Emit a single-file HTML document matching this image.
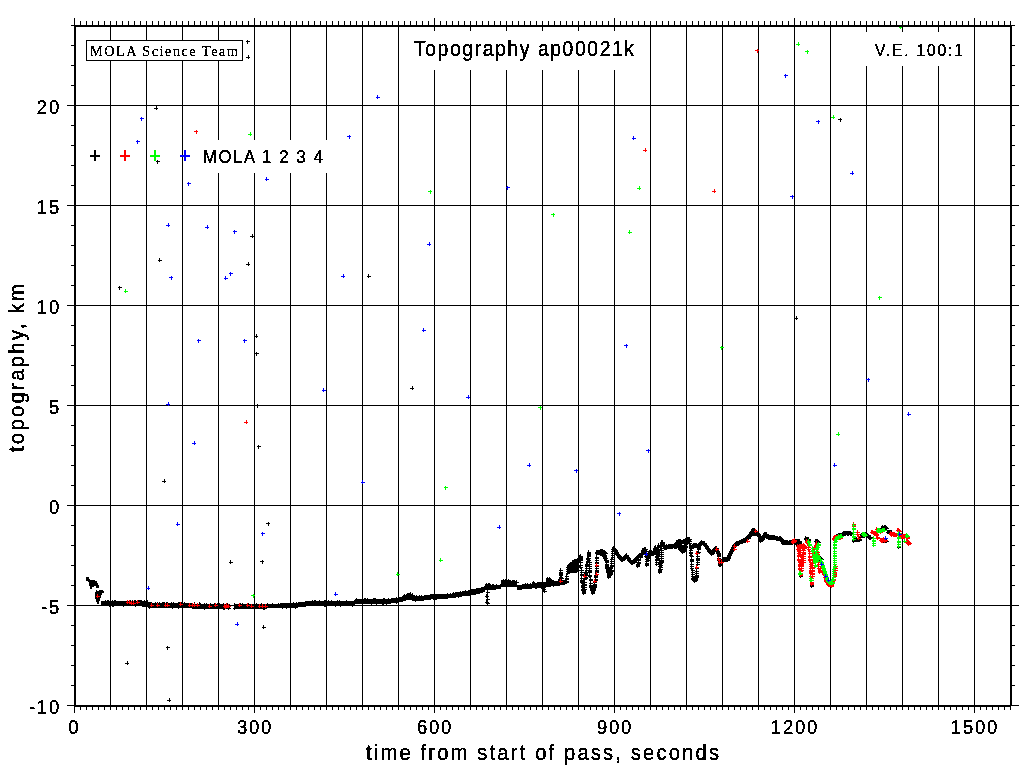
<!DOCTYPE html>
<html><head><meta charset="utf-8"><title>Topography ap00021k</title>
<style>
html,body{margin:0;padding:0;background:#fff;}
svg{display:block;}
text{font-family:"Liberation Sans",Arial,Helvetica,sans-serif;fill:#000;stroke:#000;stroke-width:0.12px;}
.tm{font-family:"Liberation Serif","Times New Roman",serif;stroke-width:0;}
</style></head>
<body>
<svg width="1024" height="768" viewBox="0 0 1024 768">
<defs><filter id="crisp" x="-0.05" y="-0.05" width="1.1" height="1.1" color-interpolation-filters="sRGB"><feComponentTransfer><feFuncA type="discrete" tableValues="0 1 1"/></feComponentTransfer></filter></defs>
<rect width="1024" height="768" fill="#fff"/>
<g shape-rendering="crispEdges">
<rect x="110" y="27" width="1" height="678" fill="#000"/>
<rect x="146" y="27" width="1" height="678" fill="#000"/>
<rect x="182" y="27" width="1" height="678" fill="#000"/>
<rect x="218" y="27" width="1" height="678" fill="#000"/>
<rect x="254" y="27" width="1" height="678" fill="#000"/>
<rect x="290" y="27" width="1" height="678" fill="#000"/>
<rect x="326" y="27" width="1" height="678" fill="#000"/>
<rect x="362" y="27" width="1" height="678" fill="#000"/>
<rect x="398" y="27" width="1" height="678" fill="#000"/>
<rect x="434" y="27" width="1" height="678" fill="#000"/>
<rect x="470" y="27" width="1" height="678" fill="#000"/>
<rect x="506" y="27" width="1" height="678" fill="#000"/>
<rect x="542" y="27" width="1" height="678" fill="#000"/>
<rect x="578" y="27" width="1" height="678" fill="#000"/>
<rect x="614" y="27" width="1" height="678" fill="#000"/>
<rect x="650" y="27" width="1" height="678" fill="#000"/>
<rect x="686" y="27" width="1" height="678" fill="#000"/>
<rect x="722" y="27" width="1" height="678" fill="#000"/>
<rect x="758" y="27" width="1" height="678" fill="#000"/>
<rect x="794" y="27" width="1" height="678" fill="#000"/>
<rect x="830" y="27" width="1" height="678" fill="#000"/>
<rect x="866" y="27" width="1" height="678" fill="#000"/>
<rect x="902" y="27" width="1" height="678" fill="#000"/>
<rect x="938" y="27" width="1" height="678" fill="#000"/>
<rect x="974" y="27" width="1" height="678" fill="#000"/>
<rect x="76" y="105" width="934" height="1" fill="#000"/>
<rect x="76" y="205" width="934" height="1" fill="#000"/>
<rect x="76" y="305" width="934" height="1" fill="#000"/>
<rect x="76" y="405" width="934" height="1" fill="#000"/>
<rect x="76" y="505" width="934" height="1" fill="#000"/>
<rect x="76" y="605" width="934" height="1" fill="#000"/>
</g>
<g shape-rendering="crispEdges">
<path fill="#000" d="M101 601 L101 601 L102 601 L141 601 L142 601 L142 601 L143 601 L147 601 L148 601 L148 603 L149 603 L181 603 L182 603 L183 603 L184 603 L200 604 L201 604 L229 604 L230 604 L230 609 L229 609 L201 609 L200 609 L184 608 L183 608 L182 608 L181 608 L149 608 L148 608 L148 607 L147 607 L143 607 L142 607 L142 606 L141 606 L102 606 L101 606Z"/>
<path fill="#000" d="M234 604 L234 604 L235 604 L264 604 L265 604 L268 604 L269 604 L290 603 L291 603 L305 602 L306 602 L306 601 L307 601 L324 601 L325 601 L354 601 L355 601 L355 599 L356 599 L384 599 L385 599 L396 598 L397 598 L400 597 L401 597 L404 595 L405 595 L407 593 L408 593 L412 594 L413 594 L413 596 L414 596 L423 596 L424 596 L424 595 L425 595 L437 594 L438 594 L444 594 L445 594 L451 594 L452 594 L452 593 L453 593 L458 592 L459 592 L465 591 L466 591 L473 589 L474 589 L478 588 L479 588 L484 587 L485 587 L485 584 L486 584 L489 584 L490 584 L490 585 L491 585 L500 585 L501 585 L501 580 L502 580 L510 580 L511 580 L511 581 L512 581 L516 581 L517 581 L517 585 L518 585 L521 585 L522 585 L522 584 L523 584 L531 584 L532 584 L532 582 L533 582 L534 582 L535 582 L535 584 L536 584 L536 584 L537 584 L537 582 L538 582 L542 582 L543 582 L543 582 L544 582 L545 582 L546 582 L546 578 L547 578 L550 578 L551 578 L551 581 L552 581 L558 581 L559 581 L559 585 L558 585 L552 586 L551 586 L551 587 L550 587 L547 587 L546 587 L546 588 L545 588 L544 588 L543 588 L543 588 L542 588 L538 588 L537 588 L537 589 L536 589 L536 589 L535 589 L535 588 L534 588 L533 588 L532 588 L532 589 L531 589 L523 589 L522 589 L522 590 L521 590 L518 590 L517 590 L517 587 L516 587 L512 587 L511 587 L511 587 L510 587 L502 587 L501 587 L501 589 L500 589 L491 590 L490 590 L490 590 L489 590 L486 590 L485 590 L485 592 L484 592 L479 594 L478 594 L474 595 L473 595 L466 596 L465 596 L459 597 L458 597 L453 598 L452 598 L452 598 L451 598 L445 599 L444 599 L438 599 L437 599 L425 600 L424 600 L424 601 L423 601 L414 601 L413 601 L413 600 L412 600 L408 600 L407 600 L405 601 L404 601 L401 602 L400 602 L397 603 L396 603 L385 604 L384 604 L356 604 L355 604 L355 605 L354 605 L325 606 L324 606 L307 606 L306 606 L306 607 L305 607 L291 608 L290 608 L269 608 L268 608 L265 609 L264 609 L235 609 L234 609Z"/>
<path fill="#000" d="M487 590h1v15h-1z"/>
<path fill="#000" d="M86 577h3v2h1v1h5v1h2v2h1v2h1v3h-3v-2h-2v1h-2v2h-2v-3h-1v-4h-1v-1h-2z"/>
<path fill="#000" d="M96 590h1v1h2v-1h4v1h1v2h-2v2h-1v3h-1v3h-1v3h-2v-2h-1v-3h-1v-7h1z"/>
<path fill="#000" d="M104 602h4v1h-4zM105 600h1v4h-1zM106 602h4v1h-4zM107 600h1v4h-1zM107 602h4v1h-4zM108 600h1v4h-1zM108 605h4v1h-4zM109 603h1v4h-1zM111 602h4v1h-4zM112 600h1v4h-1zM111 605h4v1h-4zM112 603h1v4h-1zM112 605h4v1h-4zM113 603h1v4h-1zM113 602h4v1h-4zM114 600h1v4h-1zM114 602h4v1h-4zM115 600h1v4h-1zM122 605h4v1h-4zM123 603h1v4h-1zM126 602h4v1h-4zM127 600h1v4h-1zM129 602h4v1h-4zM130 600h1v4h-1zM131 602h4v1h-4zM132 600h1v4h-1zM133 602h4v1h-4zM134 600h1v4h-1zM134 602h4v1h-4zM135 600h1v4h-1zM134 605h4v1h-4zM135 603h1v4h-1zM137 602h4v1h-4zM138 600h1v4h-1zM138 602h4v1h-4zM139 600h1v4h-1zM139 602h4v1h-4zM140 600h1v4h-1zM140 602h4v1h-4zM141 600h1v4h-1zM143 602h4v1h-4zM144 600h1v4h-1zM145 602h4v1h-4zM146 600h1v4h-1zM146 602h4v1h-4zM147 600h1v4h-1zM148 607h4v1h-4zM149 605h1v4h-1zM149 604h4v1h-4zM150 602h1v4h-1zM150 604h4v1h-4zM151 602h1v4h-1zM154 604h4v1h-4zM155 602h1v4h-1zM156 604h4v1h-4zM157 602h1v4h-1zM158 604h4v1h-4zM159 602h1v4h-1zM161 604h4v1h-4zM162 602h1v4h-1zM162 604h4v1h-4zM163 602h1v4h-1zM163 604h4v1h-4zM164 602h1v4h-1zM165 604h4v1h-4zM166 602h1v4h-1zM166 604h4v1h-4zM167 602h1v4h-1zM170 604h4v1h-4zM171 602h1v4h-1zM171 607h4v1h-4zM172 605h1v4h-1zM172 604h4v1h-4zM173 602h1v4h-1zM177 604h4v1h-4zM178 602h1v4h-1zM177 607h4v1h-4zM178 605h1v4h-1zM178 604h4v1h-4zM179 602h1v4h-1zM180 604h4v1h-4zM181 602h1v4h-1zM183 604h4v1h-4zM184 602h1v4h-1zM193 604h4v1h-4zM194 602h1v4h-1zM198 604h4v1h-4zM199 602h1v4h-1zM199 605h4v1h-4zM200 603h1v4h-1zM203 605h4v1h-4zM204 603h1v4h-1zM203 608h4v1h-4zM204 606h1v4h-1zM205 605h4v1h-4zM206 603h1v4h-1zM209 605h4v1h-4zM210 603h1v4h-1zM213 605h4v1h-4zM214 603h1v4h-1zM216 605h4v1h-4zM217 603h1v4h-1zM218 605h4v1h-4zM219 603h1v4h-1zM222 605h4v1h-4zM223 603h1v4h-1zM222 608h4v1h-4zM223 606h1v4h-1zM223 608h4v1h-4zM224 606h1v4h-1zM226 605h4v1h-4zM227 603h1v4h-1zM227 608h4v1h-4zM228 606h1v4h-1zM233 605h4v1h-4zM234 603h1v4h-1zM233 608h4v1h-4zM234 606h1v4h-1zM239 605h4v1h-4zM240 603h1v4h-1zM241 605h4v1h-4zM242 603h1v4h-1zM247 605h4v1h-4zM248 603h1v4h-1zM255 605h4v1h-4zM256 603h1v4h-1zM260 605h4v1h-4zM261 603h1v4h-1zM262 608h4v1h-4zM263 606h1v4h-1zM263 608h4v1h-4zM264 606h1v4h-1zM266 605h4v1h-4zM267 603h1v4h-1zM271 605h4v1h-4zM272 603h1v4h-1zM277 605h4v1h-4zM278 603h1v4h-1zM281 607h4v1h-4zM282 605h1v4h-1zM285 607h4v1h-4zM286 605h1v4h-1zM288 605h4v1h-4zM289 603h1v4h-1zM289 604h4v1h-4zM290 602h1v4h-1zM292 604h4v1h-4zM293 602h1v4h-1zM294 607h4v1h-4zM295 605h1v4h-1zM295 604h4v1h-4zM296 602h1v4h-1zM298 604h4v1h-4zM299 602h1v4h-1zM299 604h4v1h-4zM300 602h1v4h-1zM300 604h4v1h-4zM301 602h1v4h-1zM304 603h4v1h-4zM305 601h1v4h-1zM311 602h4v1h-4zM312 600h1v4h-1zM313 602h4v1h-4zM314 600h1v4h-1zM314 602h4v1h-4zM315 600h1v4h-1zM318 602h4v1h-4zM319 600h1v4h-1zM323 602h4v1h-4zM324 600h1v4h-1zM323 605h4v1h-4zM324 603h1v4h-1zM324 602h4v1h-4zM325 600h1v4h-1zM324 605h4v1h-4zM325 603h1v4h-1zM327 602h4v1h-4zM328 600h1v4h-1zM330 602h4v1h-4zM331 600h1v4h-1zM334 605h4v1h-4zM335 603h1v4h-1zM336 602h4v1h-4zM337 600h1v4h-1zM338 602h4v1h-4zM339 600h1v4h-1zM339 605h4v1h-4zM340 603h1v4h-1zM345 602h4v1h-4zM346 600h1v4h-1zM351 605h4v1h-4zM352 603h1v4h-1zM353 602h4v1h-4zM354 600h1v4h-1zM355 600h4v1h-4zM356 598h1v4h-1zM361 603h4v1h-4zM362 601h1v4h-1zM363 600h4v1h-4zM364 598h1v4h-1zM364 600h4v1h-4zM365 598h1v4h-1zM366 600h4v1h-4zM367 598h1v4h-1zM370 603h4v1h-4zM371 601h1v4h-1zM372 600h4v1h-4zM373 598h1v4h-1zM373 600h4v1h-4zM374 598h1v4h-1zM374 600h4v1h-4zM375 598h1v4h-1zM375 603h4v1h-4zM376 601h1v4h-1zM381 603h4v1h-4zM382 601h1v4h-1zM382 600h4v1h-4zM383 598h1v4h-1zM382 603h4v1h-4zM383 601h1v4h-1zM383 600h4v1h-4zM384 598h1v4h-1zM385 603h4v1h-4zM386 601h1v4h-1zM387 600h4v1h-4zM388 598h1v4h-1zM395 599h4v1h-4zM396 597h1v4h-1zM395 602h4v1h-4zM396 600h1v4h-1zM403 596h4v1h-4zM404 594h1v4h-1zM409 594h4v1h-4zM410 592h1v4h-1zM411 595h4v1h-4zM412 593h1v4h-1zM411 599h4v1h-4zM412 597h1v4h-1zM412 597h4v1h-4zM413 595h1v4h-1zM414 600h4v1h-4zM415 598h1v4h-1zM415 597h4v1h-4zM416 595h1v4h-1zM418 597h4v1h-4zM419 595h1v4h-1zM420 597h4v1h-4zM421 595h1v4h-1zM429 596h4v1h-4zM430 594h1v4h-1zM430 596h4v1h-4zM431 594h1v4h-1zM433 599h4v1h-4zM434 597h1v4h-1zM434 596h4v1h-4zM435 594h1v4h-1zM435 596h4v1h-4zM436 594h1v4h-1zM446 595h4v1h-4zM447 593h1v4h-1zM449 595h4v1h-4zM450 593h1v4h-1zM452 594h4v1h-4zM453 592h1v4h-1zM454 594h4v1h-4zM455 592h1v4h-1zM457 596h4v1h-4zM458 594h1v4h-1zM459 593h4v1h-4zM460 591h1v4h-1zM461 593h4v1h-4zM462 591h1v4h-1zM462 593h4v1h-4zM463 591h1v4h-1zM464 592h4v1h-4zM465 590h1v4h-1zM480 589h4v1h-4zM481 587h1v4h-1zM482 589h4v1h-4zM483 587h1v4h-1zM483 588h4v1h-4zM484 586h1v4h-1zM485 585h4v1h-4zM486 583h1v4h-1zM485 596h4v1h-4zM486 594h1v4h-1zM485 602h4v1h-4zM486 600h1v4h-1zM486 592h4v1h-4zM487 590h1v4h-1zM486 599h4v1h-4zM487 597h1v4h-1zM486 603h4v1h-4zM487 601h1v4h-1zM487 585h4v1h-4zM488 583h1v4h-1zM488 585h4v1h-4zM489 583h1v4h-1zM489 586h4v1h-4zM490 584h1v4h-1zM491 586h4v1h-4zM492 584h1v4h-1zM492 586h4v1h-4zM493 584h1v4h-1zM495 586h4v1h-4zM496 584h1v4h-1zM499 586h4v1h-4zM500 584h1v4h-1zM502 581h4v1h-4zM503 579h1v4h-1zM504 581h4v1h-4zM505 579h1v4h-1zM507 581h4v1h-4zM508 579h1v4h-1zM511 582h4v1h-4zM512 580h1v4h-1zM512 582h4v1h-4zM513 580h1v4h-1zM513 582h4v1h-4zM514 580h1v4h-1zM515 582h4v1h-4zM516 580h1v4h-1zM524 585h4v1h-4zM525 583h1v4h-1zM526 585h4v1h-4zM527 583h1v4h-1zM529 585h4v1h-4zM530 583h1v4h-1zM532 583h4v1h-4zM533 581h1v4h-1zM535 585h4v1h-4zM536 583h1v4h-1zM541 583h4v1h-4zM542 581h1v4h-1zM541 588h4v1h-4zM542 586h1v4h-1zM542 589h4v1h-4zM543 587h1v4h-1zM543 591h4v1h-4zM544 589h1v4h-1zM546 579h4v1h-4zM547 577h1v4h-1zM548 579h4v1h-4zM549 577h1v4h-1zM550 582h4v1h-4zM551 580h1v4h-1zM551 582h4v1h-4zM552 580h1v4h-1zM551 583h4v1h-4zM552 581h1v4h-1zM552 582h4v1h-4zM553 580h1v4h-1zM552 583h4v1h-4zM553 581h1v4h-1zM552 584h4v1h-4zM553 582h1v4h-1zM552 585h4v1h-4zM553 583h1v4h-1zM553 583h4v1h-4zM554 581h1v4h-1zM554 583h4v1h-4zM555 581h1v4h-1zM555 583h4v1h-4zM556 581h1v4h-1zM555 584h4v1h-4zM556 582h1v4h-1zM556 583h4v1h-4zM557 581h1v4h-1zM556 584h4v1h-4zM557 582h1v4h-1zM557 582h4v1h-4zM558 580h1v4h-1zM557 583h4v1h-4zM558 581h1v4h-1zM557 584h4v1h-4zM558 582h1v4h-1zM558 579h4v1h-4zM559 577h1v4h-1zM558 580h4v1h-4zM559 578h1v4h-1zM558 583h4v1h-4zM559 581h1v4h-1zM558 584h4v1h-4zM559 582h1v4h-1zM559 570h4v1h-4zM560 568h1v4h-1zM559 572h4v1h-4zM560 570h1v4h-1zM559 573h4v1h-4zM560 571h1v4h-1zM559 574h4v1h-4zM560 572h1v4h-1zM559 575h4v1h-4zM560 573h1v4h-1zM559 577h4v1h-4zM560 575h1v4h-1zM560 578h4v1h-4zM561 576h1v4h-1zM560 581h4v1h-4zM561 579h1v4h-1zM560 583h4v1h-4zM561 581h1v4h-1zM561 582h4v1h-4zM562 580h1v4h-1zM561 583h4v1h-4zM562 581h1v4h-1zM562 582h4v1h-4zM563 580h1v4h-1zM562 583h4v1h-4zM563 581h1v4h-1zM563 582h4v1h-4zM564 580h1v4h-1zM563 583h4v1h-4zM564 581h1v4h-1zM564 582h4v1h-4zM565 580h1v4h-1zM565 576h4v1h-4zM566 574h1v4h-1zM565 578h4v1h-4zM566 576h1v4h-1zM565 579h4v1h-4zM566 577h1v4h-1zM565 581h4v1h-4zM566 579h1v4h-1zM565 582h4v1h-4zM566 580h1v4h-1zM566 567h4v1h-4zM567 565h1v4h-1zM566 569h4v1h-4zM567 567h1v4h-1zM566 571h4v1h-4zM567 569h1v4h-1zM566 573h4v1h-4zM567 571h1v4h-1zM567 566h4v1h-4zM568 564h1v4h-1zM567 567h4v1h-4zM568 565h1v4h-1zM567 568h4v1h-4zM568 566h1v4h-1zM567 569h4v1h-4zM568 567h1v4h-1zM567 571h4v1h-4zM568 569h1v4h-1zM568 565h4v1h-4zM569 563h1v4h-1zM568 566h4v1h-4zM569 564h1v4h-1zM568 567h4v1h-4zM569 565h1v4h-1zM568 568h4v1h-4zM569 566h1v4h-1zM568 569h4v1h-4zM569 567h1v4h-1zM568 570h4v1h-4zM569 568h1v4h-1zM568 571h4v1h-4zM569 569h1v4h-1zM569 564h4v1h-4zM570 562h1v4h-1zM569 565h4v1h-4zM570 563h1v4h-1zM569 566h4v1h-4zM570 564h1v4h-1zM569 567h4v1h-4zM570 565h1v4h-1zM569 568h4v1h-4zM570 566h1v4h-1zM569 569h4v1h-4zM570 567h1v4h-1zM569 570h4v1h-4zM570 568h1v4h-1zM569 571h4v1h-4zM570 569h1v4h-1zM570 564h4v1h-4zM571 562h1v4h-1zM570 565h4v1h-4zM571 563h1v4h-1zM570 567h4v1h-4zM571 565h1v4h-1zM570 568h4v1h-4zM571 566h1v4h-1zM570 570h4v1h-4zM571 568h1v4h-1zM570 571h4v1h-4zM571 569h1v4h-1zM571 562h4v1h-4zM572 560h1v4h-1zM571 563h4v1h-4zM572 561h1v4h-1zM571 564h4v1h-4zM572 562h1v4h-1zM571 565h4v1h-4zM572 563h1v4h-1zM571 567h4v1h-4zM572 565h1v4h-1zM571 568h4v1h-4zM572 566h1v4h-1zM571 570h4v1h-4zM572 568h1v4h-1zM571 571h4v1h-4zM572 569h1v4h-1zM572 562h4v1h-4zM573 560h1v4h-1zM572 563h4v1h-4zM573 561h1v4h-1zM572 564h4v1h-4zM573 562h1v4h-1zM572 567h4v1h-4zM573 565h1v4h-1zM572 568h4v1h-4zM573 566h1v4h-1zM572 570h4v1h-4zM573 568h1v4h-1zM572 571h4v1h-4zM573 569h1v4h-1zM573 561h4v1h-4zM574 559h1v4h-1zM573 562h4v1h-4zM574 560h1v4h-1zM573 563h4v1h-4zM574 561h1v4h-1zM573 564h4v1h-4zM574 562h1v4h-1zM573 566h4v1h-4zM574 564h1v4h-1zM573 567h4v1h-4zM574 565h1v4h-1zM573 570h4v1h-4zM574 568h1v4h-1zM573 571h4v1h-4zM574 569h1v4h-1zM574 561h4v1h-4zM575 559h1v4h-1zM574 562h4v1h-4zM575 560h1v4h-1zM574 563h4v1h-4zM575 561h1v4h-1zM574 566h4v1h-4zM575 564h1v4h-1zM574 567h4v1h-4zM575 565h1v4h-1zM574 570h4v1h-4zM575 568h1v4h-1zM574 571h4v1h-4zM575 569h1v4h-1zM575 561h4v1h-4zM576 559h1v4h-1zM575 562h4v1h-4zM576 560h1v4h-1zM575 565h4v1h-4zM576 563h1v4h-1zM575 566h4v1h-4zM576 564h1v4h-1zM575 570h4v1h-4zM576 568h1v4h-1zM575 571h4v1h-4zM576 569h1v4h-1zM576 560h4v1h-4zM577 558h1v4h-1zM576 561h4v1h-4zM577 559h1v4h-1zM576 562h4v1h-4zM577 560h1v4h-1zM576 565h4v1h-4zM577 563h1v4h-1zM576 566h4v1h-4zM577 564h1v4h-1zM576 570h4v1h-4zM577 568h1v4h-1zM577 560h4v1h-4zM578 558h1v4h-1zM577 561h4v1h-4zM578 559h1v4h-1zM577 562h4v1h-4zM578 560h1v4h-1zM577 565h4v1h-4zM578 563h1v4h-1zM578 557h4v1h-4zM579 555h1v4h-1zM578 558h4v1h-4zM579 556h1v4h-1zM578 559h4v1h-4zM579 557h1v4h-1zM579 556h4v1h-4zM580 554h1v4h-1zM579 557h4v1h-4zM580 555h1v4h-1zM579 558h4v1h-4zM580 556h1v4h-1zM579 559h4v1h-4zM580 557h1v4h-1zM579 560h4v1h-4zM580 558h1v4h-1zM579 562h4v1h-4zM580 560h1v4h-1zM579 565h4v1h-4zM580 563h1v4h-1zM579 567h4v1h-4zM580 565h1v4h-1zM580 570h4v1h-4zM581 568h1v4h-1zM580 572h4v1h-4zM581 570h1v4h-1zM580 574h4v1h-4zM581 572h1v4h-1zM580 575h4v1h-4zM581 573h1v4h-1zM580 578h4v1h-4zM581 576h1v4h-1zM580 580h4v1h-4zM581 578h1v4h-1zM580 581h4v1h-4zM581 579h1v4h-1zM580 582h4v1h-4zM581 580h1v4h-1zM581 583h4v1h-4zM582 581h1v4h-1zM581 585h4v1h-4zM582 583h1v4h-1zM581 586h4v1h-4zM582 584h1v4h-1zM581 587h4v1h-4zM582 585h1v4h-1zM581 589h4v1h-4zM582 587h1v4h-1zM581 590h4v1h-4zM582 588h1v4h-1zM582 590h4v1h-4zM583 588h1v4h-1zM582 591h4v1h-4zM583 589h1v4h-1zM582 592h4v1h-4zM583 590h1v4h-1zM582 593h4v1h-4zM583 591h1v4h-1zM583 579h4v1h-4zM584 577h1v4h-1zM583 582h4v1h-4zM584 580h1v4h-1zM583 584h4v1h-4zM584 582h1v4h-1zM583 585h4v1h-4zM584 583h1v4h-1zM583 587h4v1h-4zM584 585h1v4h-1zM583 589h4v1h-4zM584 587h1v4h-1zM584 572h4v1h-4zM585 570h1v4h-1zM584 573h4v1h-4zM585 571h1v4h-1zM584 574h4v1h-4zM585 572h1v4h-1zM584 575h4v1h-4zM585 573h1v4h-1zM584 577h4v1h-4zM585 575h1v4h-1zM584 578h4v1h-4zM585 576h1v4h-1zM585 564h4v1h-4zM586 562h1v4h-1zM585 565h4v1h-4zM586 563h1v4h-1zM585 566h4v1h-4zM586 564h1v4h-1zM585 568h4v1h-4zM586 566h1v4h-1zM585 570h4v1h-4zM586 568h1v4h-1zM585 572h4v1h-4zM586 570h1v4h-1zM586 558h4v1h-4zM587 556h1v4h-1zM586 559h4v1h-4zM587 557h1v4h-1zM586 561h4v1h-4zM587 559h1v4h-1zM586 562h4v1h-4zM587 560h1v4h-1zM587 552h4v1h-4zM588 550h1v4h-1zM587 553h4v1h-4zM588 551h1v4h-1zM587 554h4v1h-4zM588 552h1v4h-1zM587 555h4v1h-4zM588 553h1v4h-1zM587 556h4v1h-4zM588 554h1v4h-1zM587 558h4v1h-4zM588 556h1v4h-1zM587 560h4v1h-4zM588 558h1v4h-1zM588 562h4v1h-4zM589 560h1v4h-1zM588 564h4v1h-4zM589 562h1v4h-1zM588 566h4v1h-4zM589 564h1v4h-1zM588 568h4v1h-4zM589 566h1v4h-1zM588 570h4v1h-4zM589 568h1v4h-1zM588 571h4v1h-4zM589 569h1v4h-1zM588 572h4v1h-4zM589 570h1v4h-1zM588 575h4v1h-4zM589 573h1v4h-1zM588 576h4v1h-4zM589 574h1v4h-1zM589 579h4v1h-4zM590 577h1v4h-1zM589 580h4v1h-4zM590 578h1v4h-1zM589 583h4v1h-4zM590 581h1v4h-1zM589 585h4v1h-4zM590 583h1v4h-1zM589 586h4v1h-4zM590 584h1v4h-1zM589 587h4v1h-4zM590 585h1v4h-1zM590 587h4v1h-4zM591 585h1v4h-1zM590 588h4v1h-4zM591 586h1v4h-1zM590 589h4v1h-4zM591 587h1v4h-1zM590 590h4v1h-4zM591 588h1v4h-1zM591 591h4v1h-4zM592 589h1v4h-1zM591 592h4v1h-4zM592 590h1v4h-1zM591 593h4v1h-4zM592 591h1v4h-1zM592 588h4v1h-4zM593 586h1v4h-1zM592 589h4v1h-4zM593 587h1v4h-1zM592 590h4v1h-4zM593 588h1v4h-1zM593 581h4v1h-4zM594 579h1v4h-1zM593 582h4v1h-4zM594 580h1v4h-1zM593 584h4v1h-4zM594 582h1v4h-1zM593 585h4v1h-4zM594 583h1v4h-1zM593 586h4v1h-4zM594 584h1v4h-1zM593 587h4v1h-4zM594 585h1v4h-1zM594 575h4v1h-4zM595 573h1v4h-1zM594 576h4v1h-4zM595 574h1v4h-1zM594 577h4v1h-4zM595 575h1v4h-1zM594 579h4v1h-4zM595 577h1v4h-1zM594 580h4v1h-4zM595 578h1v4h-1zM595 552h4v1h-4zM596 550h1v4h-1zM595 553h4v1h-4zM596 551h1v4h-1zM595 557h4v1h-4zM596 555h1v4h-1zM595 558h4v1h-4zM596 556h1v4h-1zM595 560h4v1h-4zM596 558h1v4h-1zM595 562h4v1h-4zM596 560h1v4h-1zM595 563h4v1h-4zM596 561h1v4h-1zM595 566h4v1h-4zM596 564h1v4h-1zM595 568h4v1h-4zM596 566h1v4h-1zM595 570h4v1h-4zM596 568h1v4h-1zM595 571h4v1h-4zM596 569h1v4h-1zM595 572h4v1h-4zM596 570h1v4h-1zM595 574h4v1h-4zM596 572h1v4h-1zM596 552h4v1h-4zM597 550h1v4h-1zM596 553h4v1h-4zM597 551h1v4h-1zM597 552h4v1h-4zM598 550h1v4h-1zM597 553h4v1h-4zM598 551h1v4h-1zM598 552h4v1h-4zM599 550h1v4h-1zM598 553h4v1h-4zM599 551h1v4h-1zM599 551h4v1h-4zM600 549h1v4h-1zM599 552h4v1h-4zM600 550h1v4h-1zM599 553h4v1h-4zM600 551h1v4h-1zM599 554h4v1h-4zM600 552h1v4h-1zM600 551h4v1h-4zM601 549h1v4h-1zM600 552h4v1h-4zM601 550h1v4h-1zM600 553h4v1h-4zM601 551h1v4h-1zM600 554h4v1h-4zM601 552h1v4h-1zM601 551h4v1h-4zM602 549h1v4h-1zM601 552h4v1h-4zM602 550h1v4h-1zM601 554h4v1h-4zM602 552h1v4h-1zM601 555h4v1h-4zM602 553h1v4h-1zM602 552h4v1h-4zM603 550h1v4h-1zM602 553h4v1h-4zM603 551h1v4h-1zM602 555h4v1h-4zM603 553h1v4h-1zM603 552h4v1h-4zM604 550h1v4h-1zM603 553h4v1h-4zM604 551h1v4h-1zM603 555h4v1h-4zM604 553h1v4h-1zM603 556h4v1h-4zM604 554h1v4h-1zM603 557h4v1h-4zM604 555h1v4h-1zM603 558h4v1h-4zM604 556h1v4h-1zM604 553h4v1h-4zM605 551h1v4h-1zM604 558h4v1h-4zM605 556h1v4h-1zM604 560h4v1h-4zM605 558h1v4h-1zM605 560h4v1h-4zM606 558h1v4h-1zM605 561h4v1h-4zM606 559h1v4h-1zM605 562h4v1h-4zM606 560h1v4h-1zM605 564h4v1h-4zM606 562h1v4h-1zM605 565h4v1h-4zM606 563h1v4h-1zM605 566h4v1h-4zM606 564h1v4h-1zM605 567h4v1h-4zM606 565h1v4h-1zM605 568h4v1h-4zM606 566h1v4h-1zM606 567h4v1h-4zM607 565h1v4h-1zM606 568h4v1h-4zM607 566h1v4h-1zM606 569h4v1h-4zM607 567h1v4h-1zM606 570h4v1h-4zM607 568h1v4h-1zM606 571h4v1h-4zM607 569h1v4h-1zM606 572h4v1h-4zM607 570h1v4h-1zM607 570h4v1h-4zM608 568h1v4h-1zM607 571h4v1h-4zM608 569h1v4h-1zM607 572h4v1h-4zM608 570h1v4h-1zM607 573h4v1h-4zM608 571h1v4h-1zM607 574h4v1h-4zM608 572h1v4h-1zM607 575h4v1h-4zM608 573h1v4h-1zM607 576h4v1h-4zM608 574h1v4h-1zM607 577h4v1h-4zM608 575h1v4h-1zM608 571h4v1h-4zM609 569h1v4h-1zM608 572h4v1h-4zM609 570h1v4h-1zM608 574h4v1h-4zM609 572h1v4h-1zM608 575h4v1h-4zM609 573h1v4h-1zM609 567h4v1h-4zM610 565h1v4h-1zM609 568h4v1h-4zM610 566h1v4h-1zM609 570h4v1h-4zM610 568h1v4h-1zM609 571h4v1h-4zM610 569h1v4h-1zM609 572h4v1h-4zM610 570h1v4h-1zM609 573h4v1h-4zM610 571h1v4h-1zM609 574h4v1h-4zM610 572h1v4h-1zM610 559h4v1h-4zM611 557h1v4h-1zM610 561h4v1h-4zM611 559h1v4h-1zM610 563h4v1h-4zM611 561h1v4h-1zM610 565h4v1h-4zM611 563h1v4h-1zM610 566h4v1h-4zM611 564h1v4h-1zM610 570h4v1h-4zM611 568h1v4h-1zM610 571h4v1h-4zM611 569h1v4h-1zM611 549h4v1h-4zM612 547h1v4h-1zM611 551h4v1h-4zM612 549h1v4h-1zM611 553h4v1h-4zM612 551h1v4h-1zM611 555h4v1h-4zM612 553h1v4h-1zM611 557h4v1h-4zM612 555h1v4h-1zM612 548h4v1h-4zM613 546h1v4h-1zM612 549h4v1h-4zM613 547h1v4h-1zM613 549h4v1h-4zM614 547h1v4h-1zM613 550h4v1h-4zM614 548h1v4h-1zM613 551h4v1h-4zM614 549h1v4h-1zM614 550h4v1h-4zM615 548h1v4h-1zM614 551h4v1h-4zM615 549h1v4h-1zM614 552h4v1h-4zM615 550h1v4h-1zM615 552h4v1h-4zM616 550h1v4h-1zM615 553h4v1h-4zM616 551h1v4h-1zM615 554h4v1h-4zM616 552h1v4h-1zM616 554h4v1h-4zM617 552h1v4h-1zM616 555h4v1h-4zM617 553h1v4h-1zM617 555h4v1h-4zM618 553h1v4h-1zM617 556h4v1h-4zM618 554h1v4h-1zM617 557h4v1h-4zM618 555h1v4h-1zM618 556h4v1h-4zM619 554h1v4h-1zM618 557h4v1h-4zM619 555h1v4h-1zM618 558h4v1h-4zM619 556h1v4h-1zM619 557h4v1h-4zM620 555h1v4h-1zM619 558h4v1h-4zM620 556h1v4h-1zM619 559h4v1h-4zM620 557h1v4h-1zM620 559h4v1h-4zM621 557h1v4h-1zM620 560h4v1h-4zM621 558h1v4h-1zM621 559h4v1h-4zM622 557h1v4h-1zM621 560h4v1h-4zM622 558h1v4h-1zM622 558h4v1h-4zM623 556h1v4h-1zM622 559h4v1h-4zM623 557h1v4h-1zM623 557h4v1h-4zM624 555h1v4h-1zM623 558h4v1h-4zM624 556h1v4h-1zM624 556h4v1h-4zM625 554h1v4h-1zM624 557h4v1h-4zM625 555h1v4h-1zM625 555h4v1h-4zM626 553h1v4h-1zM625 556h4v1h-4zM626 554h1v4h-1zM625 557h4v1h-4zM626 555h1v4h-1zM626 557h4v1h-4zM627 555h1v4h-1zM626 558h4v1h-4zM627 556h1v4h-1zM627 558h4v1h-4zM628 556h1v4h-1zM627 559h4v1h-4zM628 557h1v4h-1zM627 560h4v1h-4zM628 558h1v4h-1zM628 560h4v1h-4zM629 558h1v4h-1zM628 561h4v1h-4zM629 559h1v4h-1zM629 561h4v1h-4zM630 559h1v4h-1zM629 562h4v1h-4zM630 560h1v4h-1zM630 562h4v1h-4zM631 560h1v4h-1zM630 563h4v1h-4zM631 561h1v4h-1zM631 562h4v1h-4zM632 560h1v4h-1zM631 563h4v1h-4zM632 561h1v4h-1zM632 561h4v1h-4zM633 559h1v4h-1zM632 562h4v1h-4zM633 560h1v4h-1zM633 560h4v1h-4zM634 558h1v4h-1zM633 561h4v1h-4zM634 559h1v4h-1zM633 562h4v1h-4zM634 560h1v4h-1zM634 559h4v1h-4zM635 557h1v4h-1zM634 560h4v1h-4zM635 558h1v4h-1zM635 558h4v1h-4zM636 556h1v4h-1zM635 559h4v1h-4zM636 557h1v4h-1zM636 557h4v1h-4zM637 555h1v4h-1zM636 564h4v1h-4zM637 562h1v4h-1zM636 565h4v1h-4zM637 563h1v4h-1zM636 566h4v1h-4zM637 564h1v4h-1zM637 556h4v1h-4zM638 554h1v4h-1zM637 557h4v1h-4zM638 555h1v4h-1zM637 559h4v1h-4zM638 557h1v4h-1zM637 560h4v1h-4zM638 558h1v4h-1zM637 562h4v1h-4zM638 560h1v4h-1zM637 563h4v1h-4zM638 561h1v4h-1zM638 555h4v1h-4zM639 553h1v4h-1zM638 556h4v1h-4zM639 554h1v4h-1zM639 555h4v1h-4zM640 553h1v4h-1zM639 556h4v1h-4zM640 554h1v4h-1zM639 557h4v1h-4zM640 555h1v4h-1zM640 553h4v1h-4zM641 551h1v4h-1zM640 554h4v1h-4zM641 552h1v4h-1zM641 550h4v1h-4zM642 548h1v4h-1zM641 551h4v1h-4zM642 549h1v4h-1zM641 552h4v1h-4zM642 550h1v4h-1zM642 550h4v1h-4zM643 548h1v4h-1zM642 551h4v1h-4zM643 549h1v4h-1zM643 549h4v1h-4zM644 547h1v4h-1zM643 550h4v1h-4zM644 548h1v4h-1zM644 549h4v1h-4zM645 547h1v4h-1zM644 551h4v1h-4zM645 549h1v4h-1zM644 553h4v1h-4zM645 551h1v4h-1zM644 556h4v1h-4zM645 554h1v4h-1zM645 557h4v1h-4zM646 555h1v4h-1zM645 559h4v1h-4zM646 557h1v4h-1zM645 561h4v1h-4zM646 559h1v4h-1zM645 563h4v1h-4zM646 561h1v4h-1zM645 564h4v1h-4zM646 562h1v4h-1zM645 565h4v1h-4zM646 563h1v4h-1zM646 557h4v1h-4zM647 555h1v4h-1zM646 558h4v1h-4zM647 556h1v4h-1zM646 560h4v1h-4zM647 558h1v4h-1zM647 553h4v1h-4zM648 551h1v4h-1zM647 554h4v1h-4zM648 552h1v4h-1zM647 555h4v1h-4zM648 553h1v4h-1zM647 556h4v1h-4zM648 554h1v4h-1zM648 552h4v1h-4zM649 550h1v4h-1zM648 553h4v1h-4zM649 551h1v4h-1zM649 552h4v1h-4zM650 550h1v4h-1zM649 553h4v1h-4zM650 551h1v4h-1zM650 552h4v1h-4zM651 550h1v4h-1zM650 553h4v1h-4zM651 551h1v4h-1zM650 554h4v1h-4zM651 552h1v4h-1zM651 553h4v1h-4zM652 551h1v4h-1zM651 554h4v1h-4zM652 552h1v4h-1zM652 551h4v1h-4zM653 549h1v4h-1zM652 553h4v1h-4zM653 551h1v4h-1zM652 554h4v1h-4zM653 552h1v4h-1zM653 548h4v1h-4zM654 546h1v4h-1zM653 549h4v1h-4zM654 547h1v4h-1zM653 550h4v1h-4zM654 548h1v4h-1zM653 551h4v1h-4zM654 549h1v4h-1zM653 552h4v1h-4zM654 550h1v4h-1zM654 547h4v1h-4zM655 545h1v4h-1zM654 548h4v1h-4zM655 546h1v4h-1zM654 549h4v1h-4zM655 547h1v4h-1zM654 551h4v1h-4zM655 549h1v4h-1zM654 553h4v1h-4zM655 551h1v4h-1zM655 556h4v1h-4zM656 554h1v4h-1zM655 557h4v1h-4zM656 555h1v4h-1zM655 559h4v1h-4zM656 557h1v4h-1zM655 560h4v1h-4zM656 558h1v4h-1zM655 562h4v1h-4zM656 560h1v4h-1zM655 564h4v1h-4zM656 562h1v4h-1zM656 551h4v1h-4zM657 549h1v4h-1zM656 553h4v1h-4zM657 551h1v4h-1zM656 555h4v1h-4zM657 553h1v4h-1zM656 558h4v1h-4zM657 556h1v4h-1zM657 545h4v1h-4zM658 543h1v4h-1zM657 546h4v1h-4zM658 544h1v4h-1zM657 547h4v1h-4zM658 545h1v4h-1zM657 549h4v1h-4zM658 547h1v4h-1zM657 550h4v1h-4zM658 548h1v4h-1zM657 552h4v1h-4zM658 550h1v4h-1zM657 554h4v1h-4zM658 552h1v4h-1zM657 556h4v1h-4zM658 554h1v4h-1zM657 558h4v1h-4zM658 556h1v4h-1zM658 560h4v1h-4zM659 558h1v4h-1zM658 563h4v1h-4zM659 561h1v4h-1zM658 564h4v1h-4zM659 562h1v4h-1zM658 566h4v1h-4zM659 564h1v4h-1zM658 569h4v1h-4zM659 567h1v4h-1zM658 570h4v1h-4zM659 568h1v4h-1zM658 571h4v1h-4zM659 569h1v4h-1zM658 572h4v1h-4zM659 570h1v4h-1zM659 563h4v1h-4zM660 561h1v4h-1zM659 565h4v1h-4zM660 563h1v4h-1zM659 567h4v1h-4zM660 565h1v4h-1zM659 569h4v1h-4zM660 567h1v4h-1zM660 542h4v1h-4zM661 540h1v4h-1zM660 543h4v1h-4zM661 541h1v4h-1zM660 544h4v1h-4zM661 542h1v4h-1zM660 546h4v1h-4zM661 544h1v4h-1zM660 548h4v1h-4zM661 546h1v4h-1zM660 550h4v1h-4zM661 548h1v4h-1zM660 552h4v1h-4zM661 550h1v4h-1zM660 554h4v1h-4zM661 552h1v4h-1zM660 556h4v1h-4zM661 554h1v4h-1zM660 558h4v1h-4zM661 556h1v4h-1zM660 560h4v1h-4zM661 558h1v4h-1zM660 561h4v1h-4zM661 559h1v4h-1zM660 562h4v1h-4zM661 560h1v4h-1zM661 542h4v1h-4zM662 540h1v4h-1zM661 543h4v1h-4zM662 541h1v4h-1zM661 544h4v1h-4zM662 542h1v4h-1zM661 545h4v1h-4zM662 543h1v4h-1zM662 545h4v1h-4zM663 543h1v4h-1zM662 546h4v1h-4zM663 544h1v4h-1zM663 546h4v1h-4zM664 544h1v4h-1zM663 547h4v1h-4zM664 545h1v4h-1zM663 548h4v1h-4zM664 546h1v4h-1zM664 547h4v1h-4zM665 545h1v4h-1zM664 548h4v1h-4zM665 546h1v4h-1zM665 546h4v1h-4zM666 544h1v4h-1zM665 547h4v1h-4zM666 545h1v4h-1zM665 548h4v1h-4zM666 546h1v4h-1zM666 547h4v1h-4zM667 545h1v4h-1zM667 546h4v1h-4zM668 544h1v4h-1zM667 547h4v1h-4zM668 545h1v4h-1zM668 546h4v1h-4zM669 544h1v4h-1zM668 547h4v1h-4zM669 545h1v4h-1zM669 546h4v1h-4zM670 544h1v4h-1zM669 547h4v1h-4zM670 545h1v4h-1zM670 546h4v1h-4zM671 544h1v4h-1zM670 547h4v1h-4zM671 545h1v4h-1zM671 546h4v1h-4zM672 544h1v4h-1zM671 547h4v1h-4zM672 545h1v4h-1zM672 546h4v1h-4zM673 544h1v4h-1zM673 545h4v1h-4zM674 543h1v4h-1zM673 546h4v1h-4zM674 544h1v4h-1zM673 547h4v1h-4zM674 545h1v4h-1zM674 544h4v1h-4zM675 542h1v4h-1zM674 545h4v1h-4zM675 543h1v4h-1zM674 546h4v1h-4zM675 544h1v4h-1zM674 547h4v1h-4zM675 545h1v4h-1zM675 542h4v1h-4zM676 540h1v4h-1zM675 543h4v1h-4zM676 541h1v4h-1zM675 544h4v1h-4zM676 542h1v4h-1zM675 545h4v1h-4zM676 543h1v4h-1zM675 546h4v1h-4zM676 544h1v4h-1zM675 547h4v1h-4zM676 545h1v4h-1zM676 542h4v1h-4zM677 540h1v4h-1zM676 543h4v1h-4zM677 541h1v4h-1zM676 544h4v1h-4zM677 542h1v4h-1zM676 545h4v1h-4zM677 543h1v4h-1zM677 541h4v1h-4zM678 539h1v4h-1zM677 542h4v1h-4zM678 540h1v4h-1zM677 543h4v1h-4zM678 541h1v4h-1zM677 544h4v1h-4zM678 542h1v4h-1zM678 541h4v1h-4zM679 539h1v4h-1zM678 542h4v1h-4zM679 540h1v4h-1zM678 543h4v1h-4zM679 541h1v4h-1zM678 548h4v1h-4zM679 546h1v4h-1zM678 549h4v1h-4zM679 547h1v4h-1zM679 541h4v1h-4zM680 539h1v4h-1zM679 542h4v1h-4zM680 540h1v4h-1zM679 543h4v1h-4zM680 541h1v4h-1zM679 548h4v1h-4zM680 546h1v4h-1zM679 549h4v1h-4zM680 547h1v4h-1zM679 550h4v1h-4zM680 548h1v4h-1zM680 542h4v1h-4zM681 540h1v4h-1zM680 545h4v1h-4zM681 543h1v4h-1zM680 546h4v1h-4zM681 544h1v4h-1zM680 548h4v1h-4zM681 546h1v4h-1zM680 549h4v1h-4zM681 547h1v4h-1zM680 550h4v1h-4zM681 548h1v4h-1zM680 551h4v1h-4zM681 549h1v4h-1zM681 542h4v1h-4zM682 540h1v4h-1zM681 549h4v1h-4zM682 547h1v4h-1zM681 550h4v1h-4zM682 548h1v4h-1zM681 551h4v1h-4zM682 549h1v4h-1zM681 552h4v1h-4zM682 550h1v4h-1zM682 541h4v1h-4zM683 539h1v4h-1zM682 542h4v1h-4zM683 540h1v4h-1zM682 547h4v1h-4zM683 545h1v4h-1zM682 548h4v1h-4zM683 546h1v4h-1zM682 549h4v1h-4zM683 547h1v4h-1zM682 550h4v1h-4zM683 548h1v4h-1zM682 551h4v1h-4zM683 549h1v4h-1zM683 541h4v1h-4zM684 539h1v4h-1zM683 542h4v1h-4zM684 540h1v4h-1zM683 545h4v1h-4zM684 543h1v4h-1zM683 546h4v1h-4zM684 544h1v4h-1zM683 547h4v1h-4zM684 545h1v4h-1zM683 548h4v1h-4zM684 546h1v4h-1zM683 549h4v1h-4zM684 547h1v4h-1zM684 540h4v1h-4zM685 538h1v4h-1zM684 541h4v1h-4zM685 539h1v4h-1zM684 543h4v1h-4zM685 541h1v4h-1zM684 544h4v1h-4zM685 542h1v4h-1zM684 546h4v1h-4zM685 544h1v4h-1zM684 547h4v1h-4zM685 545h1v4h-1zM685 540h4v1h-4zM686 538h1v4h-1zM685 541h4v1h-4zM686 539h1v4h-1zM685 542h4v1h-4zM686 540h1v4h-1zM686 539h4v1h-4zM687 537h1v4h-1zM686 540h4v1h-4zM687 538h1v4h-1zM686 541h4v1h-4zM687 539h1v4h-1zM687 539h4v1h-4zM688 537h1v4h-1zM687 540h4v1h-4zM688 538h1v4h-1zM687 541h4v1h-4zM688 539h1v4h-1zM688 539h4v1h-4zM689 537h1v4h-1zM688 541h4v1h-4zM689 539h1v4h-1zM688 543h4v1h-4zM689 541h1v4h-1zM689 545h4v1h-4zM690 543h1v4h-1zM689 546h4v1h-4zM690 544h1v4h-1zM689 547h4v1h-4zM690 545h1v4h-1zM689 548h4v1h-4zM690 546h1v4h-1zM689 550h4v1h-4zM690 548h1v4h-1zM689 552h4v1h-4zM690 550h1v4h-1zM689 553h4v1h-4zM690 551h1v4h-1zM689 555h4v1h-4zM690 553h1v4h-1zM690 547h4v1h-4zM691 545h1v4h-1zM690 548h4v1h-4zM691 546h1v4h-1zM690 556h4v1h-4zM691 554h1v4h-1zM690 559h4v1h-4zM691 557h1v4h-1zM690 560h4v1h-4zM691 558h1v4h-1zM690 561h4v1h-4zM691 559h1v4h-1zM690 564h4v1h-4zM691 562h1v4h-1zM690 566h4v1h-4zM691 564h1v4h-1zM690 568h4v1h-4zM691 566h1v4h-1zM691 546h4v1h-4zM692 544h1v4h-1zM691 547h4v1h-4zM692 545h1v4h-1zM691 570h4v1h-4zM692 568h1v4h-1zM691 572h4v1h-4zM692 570h1v4h-1zM691 574h4v1h-4zM692 572h1v4h-1zM691 576h4v1h-4zM692 574h1v4h-1zM691 578h4v1h-4zM692 576h1v4h-1zM691 579h4v1h-4zM692 577h1v4h-1zM692 545h4v1h-4zM693 543h1v4h-1zM692 546h4v1h-4zM693 544h1v4h-1zM692 579h4v1h-4zM693 577h1v4h-1zM692 580h4v1h-4zM693 578h1v4h-1zM693 545h4v1h-4zM694 543h1v4h-1zM693 546h4v1h-4zM694 544h1v4h-1zM693 579h4v1h-4zM694 577h1v4h-1zM693 580h4v1h-4zM694 578h1v4h-1zM693 581h4v1h-4zM694 579h1v4h-1zM694 545h4v1h-4zM695 543h1v4h-1zM694 546h4v1h-4zM695 544h1v4h-1zM694 577h4v1h-4zM695 575h1v4h-1zM694 578h4v1h-4zM695 576h1v4h-1zM694 579h4v1h-4zM695 577h1v4h-1zM694 580h4v1h-4zM695 578h1v4h-1zM695 545h4v1h-4zM696 543h1v4h-1zM695 546h4v1h-4zM696 544h1v4h-1zM695 567h4v1h-4zM696 565h1v4h-1zM695 568h4v1h-4zM696 566h1v4h-1zM695 571h4v1h-4zM696 569h1v4h-1zM695 573h4v1h-4zM696 571h1v4h-1zM695 575h4v1h-4zM696 573h1v4h-1zM695 576h4v1h-4zM696 574h1v4h-1zM695 577h4v1h-4zM696 575h1v4h-1zM696 546h4v1h-4zM697 544h1v4h-1zM696 553h4v1h-4zM697 551h1v4h-1zM696 556h4v1h-4zM697 554h1v4h-1zM696 558h4v1h-4zM697 556h1v4h-1zM696 559h4v1h-4zM697 557h1v4h-1zM696 560h4v1h-4zM697 558h1v4h-1zM696 562h4v1h-4zM697 560h1v4h-1zM696 564h4v1h-4zM697 562h1v4h-1zM697 545h4v1h-4zM698 543h1v4h-1zM697 546h4v1h-4zM698 544h1v4h-1zM697 547h4v1h-4zM698 545h1v4h-1zM697 548h4v1h-4zM698 546h1v4h-1zM697 549h4v1h-4zM698 547h1v4h-1zM697 552h4v1h-4zM698 550h1v4h-1zM698 544h4v1h-4zM699 542h1v4h-1zM698 545h4v1h-4zM699 543h1v4h-1zM699 543h4v1h-4zM700 541h1v4h-1zM699 544h4v1h-4zM700 542h1v4h-1zM700 542h4v1h-4zM701 540h1v4h-1zM700 543h4v1h-4zM701 541h1v4h-1zM701 543h4v1h-4zM702 541h1v4h-1zM702 543h4v1h-4zM703 541h1v4h-1zM703 543h4v1h-4zM704 541h1v4h-1zM703 544h4v1h-4zM704 542h1v4h-1zM703 545h4v1h-4zM704 543h1v4h-1zM704 545h4v1h-4zM705 543h1v4h-1zM704 546h4v1h-4zM705 544h1v4h-1zM705 546h4v1h-4zM706 544h1v4h-1zM705 547h4v1h-4zM706 545h1v4h-1zM705 548h4v1h-4zM706 546h1v4h-1zM706 548h4v1h-4zM707 546h1v4h-1zM706 549h4v1h-4zM707 547h1v4h-1zM707 549h4v1h-4zM708 547h1v4h-1zM707 550h4v1h-4zM708 548h1v4h-1zM707 551h4v1h-4zM708 549h1v4h-1zM708 550h4v1h-4zM709 548h1v4h-1zM708 551h4v1h-4zM709 549h1v4h-1zM709 551h4v1h-4zM710 549h1v4h-1zM709 552h4v1h-4zM710 550h1v4h-1zM709 553h4v1h-4zM710 551h1v4h-1zM710 552h4v1h-4zM711 550h1v4h-1zM710 553h4v1h-4zM711 551h1v4h-1zM710 554h4v1h-4zM711 552h1v4h-1zM711 551h4v1h-4zM712 549h1v4h-1zM711 552h4v1h-4zM712 550h1v4h-1zM711 553h4v1h-4zM712 551h1v4h-1zM712 550h4v1h-4zM713 548h1v4h-1zM712 551h4v1h-4zM713 549h1v4h-1zM713 549h4v1h-4zM714 547h1v4h-1zM713 550h4v1h-4zM714 548h1v4h-1zM714 548h4v1h-4zM715 546h1v4h-1zM714 549h4v1h-4zM715 547h1v4h-1zM715 548h4v1h-4zM716 546h1v4h-1zM715 549h4v1h-4zM716 547h1v4h-1zM715 550h4v1h-4zM716 548h1v4h-1zM716 551h4v1h-4zM717 549h1v4h-1zM716 552h4v1h-4zM717 550h1v4h-1zM716 553h4v1h-4zM717 551h1v4h-1zM717 553h4v1h-4zM718 551h1v4h-1zM717 554h4v1h-4zM718 552h1v4h-1zM717 555h4v1h-4zM718 553h1v4h-1zM717 556h4v1h-4zM718 554h1v4h-1zM717 558h4v1h-4zM718 556h1v4h-1zM717 560h4v1h-4zM718 558h1v4h-1zM718 562h4v1h-4zM719 560h1v4h-1zM718 563h4v1h-4zM719 561h1v4h-1zM718 564h4v1h-4zM719 562h1v4h-1zM718 565h4v1h-4zM719 563h1v4h-1zM719 563h4v1h-4zM720 561h1v4h-1zM719 564h4v1h-4zM720 562h1v4h-1zM719 565h4v1h-4zM720 563h1v4h-1zM720 561h4v1h-4zM721 559h1v4h-1zM720 562h4v1h-4zM721 560h1v4h-1zM721 560h4v1h-4zM722 558h1v4h-1zM721 561h4v1h-4zM722 559h1v4h-1zM722 559h4v1h-4zM723 557h1v4h-1zM722 560h4v1h-4zM723 558h1v4h-1zM723 559h4v1h-4zM724 557h1v4h-1zM723 560h4v1h-4zM724 558h1v4h-1zM724 559h4v1h-4zM725 557h1v4h-1zM724 560h4v1h-4zM725 558h1v4h-1zM725 559h4v1h-4zM726 557h1v4h-1zM725 560h4v1h-4zM726 558h1v4h-1zM726 558h4v1h-4zM727 556h1v4h-1zM726 559h4v1h-4zM727 557h1v4h-1zM726 560h4v1h-4zM727 558h1v4h-1zM727 555h4v1h-4zM728 553h1v4h-1zM727 556h4v1h-4zM728 554h1v4h-1zM727 557h4v1h-4zM728 555h1v4h-1zM727 558h4v1h-4zM728 556h1v4h-1zM728 553h4v1h-4zM729 551h1v4h-1zM728 554h4v1h-4zM729 552h1v4h-1zM728 555h4v1h-4zM729 553h1v4h-1zM729 551h4v1h-4zM730 549h1v4h-1zM729 552h4v1h-4zM730 550h1v4h-1zM729 553h4v1h-4zM730 551h1v4h-1zM730 550h4v1h-4zM731 548h1v4h-1zM730 551h4v1h-4zM731 549h1v4h-1zM731 547h4v1h-4zM732 545h1v4h-1zM731 548h4v1h-4zM732 546h1v4h-1zM731 549h4v1h-4zM732 547h1v4h-1zM732 546h4v1h-4zM733 544h1v4h-1zM732 547h4v1h-4zM733 545h1v4h-1zM733 545h4v1h-4zM734 543h1v4h-1zM733 546h4v1h-4zM734 544h1v4h-1zM734 544h4v1h-4zM735 542h1v4h-1zM734 545h4v1h-4zM735 543h1v4h-1zM735 543h4v1h-4zM736 541h1v4h-1zM735 544h4v1h-4zM736 542h1v4h-1zM735 545h4v1h-4zM736 543h1v4h-1zM736 543h4v1h-4zM737 541h1v4h-1zM736 544h4v1h-4zM737 542h1v4h-1zM737 543h4v1h-4zM738 541h1v4h-1zM738 542h4v1h-4zM739 540h1v4h-1zM738 543h4v1h-4zM739 541h1v4h-1zM739 542h4v1h-4zM740 540h1v4h-1zM740 541h4v1h-4zM741 539h1v4h-1zM740 542h4v1h-4zM741 540h1v4h-1zM741 541h4v1h-4zM742 539h1v4h-1zM741 542h4v1h-4zM742 540h1v4h-1zM742 540h4v1h-4zM743 538h1v4h-1zM742 541h4v1h-4zM743 539h1v4h-1zM743 540h4v1h-4zM744 538h1v4h-1zM743 541h4v1h-4zM744 539h1v4h-1zM744 539h4v1h-4zM745 537h1v4h-1zM744 540h4v1h-4zM745 538h1v4h-1zM744 541h4v1h-4zM745 539h1v4h-1zM745 538h4v1h-4zM746 536h1v4h-1zM745 539h4v1h-4zM746 537h1v4h-1zM746 537h4v1h-4zM747 535h1v4h-1zM746 538h4v1h-4zM747 536h1v4h-1zM747 536h4v1h-4zM748 534h1v4h-1zM747 537h4v1h-4zM748 535h1v4h-1zM747 538h4v1h-4zM748 536h1v4h-1zM748 534h4v1h-4zM749 532h1v4h-1zM748 535h4v1h-4zM749 533h1v4h-1zM748 536h4v1h-4zM749 534h1v4h-1zM749 533h4v1h-4zM750 531h1v4h-1zM749 534h4v1h-4zM750 532h1v4h-1zM750 531h4v1h-4zM751 529h1v4h-1zM750 532h4v1h-4zM751 530h1v4h-1zM751 530h4v1h-4zM752 528h1v4h-1zM751 531h4v1h-4zM752 529h1v4h-1zM751 532h4v1h-4zM752 530h1v4h-1zM751 533h4v1h-4zM752 531h1v4h-1zM751 534h4v1h-4zM752 532h1v4h-1zM752 530h4v1h-4zM753 528h1v4h-1zM752 531h4v1h-4zM753 529h1v4h-1zM752 533h4v1h-4zM753 531h1v4h-1zM752 534h4v1h-4zM753 532h1v4h-1zM753 530h4v1h-4zM754 528h1v4h-1zM753 531h4v1h-4zM754 529h1v4h-1zM753 533h4v1h-4zM754 531h1v4h-1zM753 534h4v1h-4zM754 532h1v4h-1zM754 531h4v1h-4zM755 529h1v4h-1zM754 532h4v1h-4zM755 530h1v4h-1zM754 533h4v1h-4zM755 531h1v4h-1zM754 534h4v1h-4zM755 532h1v4h-1zM755 532h4v1h-4zM756 530h1v4h-1zM755 533h4v1h-4zM756 531h1v4h-1zM755 534h4v1h-4zM756 532h1v4h-1zM756 533h4v1h-4zM757 531h1v4h-1zM756 534h4v1h-4zM757 532h1v4h-1zM756 535h4v1h-4zM757 533h1v4h-1zM757 534h4v1h-4zM758 532h1v4h-1zM757 535h4v1h-4zM758 533h1v4h-1zM757 536h4v1h-4zM758 534h1v4h-1zM758 536h4v1h-4zM759 534h1v4h-1zM758 537h4v1h-4zM759 535h1v4h-1zM758 538h4v1h-4zM759 536h1v4h-1zM759 539h4v1h-4zM760 537h1v4h-1zM759 540h4v1h-4zM760 538h1v4h-1zM759 541h4v1h-4zM760 539h1v4h-1zM760 538h4v1h-4zM761 536h1v4h-1zM760 539h4v1h-4zM761 537h1v4h-1zM760 540h4v1h-4zM761 538h1v4h-1zM761 537h4v1h-4zM762 535h1v4h-1zM761 538h4v1h-4zM762 536h1v4h-1zM761 539h4v1h-4zM762 537h1v4h-1zM762 535h4v1h-4zM763 533h1v4h-1zM762 536h4v1h-4zM763 534h1v4h-1zM762 537h4v1h-4zM763 535h1v4h-1zM763 534h4v1h-4zM764 532h1v4h-1zM763 535h4v1h-4zM764 533h1v4h-1zM763 536h4v1h-4zM764 534h1v4h-1zM764 534h4v1h-4zM765 532h1v4h-1zM764 535h4v1h-4zM765 533h1v4h-1zM764 536h4v1h-4zM765 534h1v4h-1zM765 534h4v1h-4zM766 532h1v4h-1zM765 535h4v1h-4zM766 533h1v4h-1zM765 536h4v1h-4zM766 534h1v4h-1zM765 537h4v1h-4zM766 535h1v4h-1zM766 536h4v1h-4zM767 534h1v4h-1zM766 537h4v1h-4zM767 535h1v4h-1zM767 536h4v1h-4zM768 534h1v4h-1zM767 537h4v1h-4zM768 535h1v4h-1zM767 538h4v1h-4zM768 536h1v4h-1zM768 537h4v1h-4zM769 535h1v4h-1zM768 538h4v1h-4zM769 536h1v4h-1zM769 537h4v1h-4zM770 535h1v4h-1zM769 538h4v1h-4zM770 536h1v4h-1zM770 537h4v1h-4zM771 535h1v4h-1zM770 538h4v1h-4zM771 536h1v4h-1zM771 537h4v1h-4zM772 535h1v4h-1zM771 538h4v1h-4zM772 536h1v4h-1zM772 537h4v1h-4zM773 535h1v4h-1zM772 538h4v1h-4zM773 536h1v4h-1zM773 537h4v1h-4zM774 535h1v4h-1zM773 538h4v1h-4zM774 536h1v4h-1zM774 538h4v1h-4zM775 536h1v4h-1zM775 538h4v1h-4zM776 536h1v4h-1zM775 539h4v1h-4zM776 537h1v4h-1zM776 538h4v1h-4zM777 536h1v4h-1zM776 539h4v1h-4zM777 537h1v4h-1zM777 539h4v1h-4zM778 537h1v4h-1zM778 538h4v1h-4zM779 536h1v4h-1zM778 539h4v1h-4zM779 537h1v4h-1zM779 538h4v1h-4zM780 536h1v4h-1zM779 539h4v1h-4zM780 537h1v4h-1zM779 540h4v1h-4zM780 538h1v4h-1zM780 539h4v1h-4zM781 537h1v4h-1zM780 540h4v1h-4zM781 538h1v4h-1zM780 541h4v1h-4zM781 539h1v4h-1zM781 541h4v1h-4zM782 539h1v4h-1zM781 542h4v1h-4zM782 540h1v4h-1zM781 543h4v1h-4zM782 541h1v4h-1zM782 542h4v1h-4zM783 540h1v4h-1zM782 543h4v1h-4zM783 541h1v4h-1zM783 542h4v1h-4zM784 540h1v4h-1zM783 543h4v1h-4zM784 541h1v4h-1zM784 542h4v1h-4zM785 540h1v4h-1zM784 543h4v1h-4zM785 541h1v4h-1zM785 542h4v1h-4zM786 540h1v4h-1zM785 543h4v1h-4zM786 541h1v4h-1zM786 542h4v1h-4zM787 540h1v4h-1zM786 543h4v1h-4zM787 541h1v4h-1zM787 543h4v1h-4zM788 541h1v4h-1zM788 542h4v1h-4zM789 540h1v4h-1zM788 543h4v1h-4zM789 541h1v4h-1zM789 542h4v1h-4zM790 540h1v4h-1zM789 543h4v1h-4zM790 541h1v4h-1zM790 542h4v1h-4zM791 540h1v4h-1zM790 543h4v1h-4zM791 541h1v4h-1zM791 542h4v1h-4zM792 540h1v4h-1zM791 543h4v1h-4zM792 541h1v4h-1zM792 542h4v1h-4zM793 540h1v4h-1zM793 541h4v1h-4zM794 539h1v4h-1zM793 542h4v1h-4zM794 540h1v4h-1zM794 541h4v1h-4zM795 539h1v4h-1zM794 542h4v1h-4zM795 540h1v4h-1zM795 541h4v1h-4zM796 539h1v4h-1zM795 542h4v1h-4zM796 540h1v4h-1zM795 543h4v1h-4zM796 541h1v4h-1zM795 544h4v1h-4zM796 542h1v4h-1zM796 541h4v1h-4zM797 539h1v4h-1zM796 542h4v1h-4zM797 540h1v4h-1zM796 544h4v1h-4zM797 542h1v4h-1zM796 545h4v1h-4zM797 543h1v4h-1zM797 541h4v1h-4zM798 539h1v4h-1zM797 542h4v1h-4zM798 540h1v4h-1zM798 541h4v1h-4zM799 539h1v4h-1zM798 542h4v1h-4zM799 540h1v4h-1zM798 543h4v1h-4zM799 541h1v4h-1zM799 576h4v1h-4zM800 574h1v4h-1zM804 538h4v1h-4zM805 536h1v4h-1zM804 539h4v1h-4zM805 537h1v4h-1zM805 539h4v1h-4zM806 537h1v4h-1zM805 540h4v1h-4zM806 538h1v4h-1zM806 539h4v1h-4zM807 537h1v4h-1zM807 539h4v1h-4zM808 537h1v4h-1zM807 540h4v1h-4zM808 538h1v4h-1zM810 585h4v1h-4zM811 583h1v4h-1zM810 586h4v1h-4zM811 584h1v4h-1zM814 541h4v1h-4zM815 539h1v4h-1zM815 541h4v1h-4zM816 539h1v4h-1zM815 542h4v1h-4zM816 540h1v4h-1zM816 541h4v1h-4zM817 539h1v4h-1zM816 542h4v1h-4zM817 540h1v4h-1zM816 558h4v1h-4zM817 556h1v4h-1zM816 559h4v1h-4zM817 557h1v4h-1zM817 542h4v1h-4zM818 540h1v4h-1zM817 558h4v1h-4zM818 556h1v4h-1zM817 559h4v1h-4zM818 557h1v4h-1zM818 558h4v1h-4zM819 556h1v4h-1zM818 559h4v1h-4zM819 557h1v4h-1zM819 558h4v1h-4zM820 556h1v4h-1zM819 559h4v1h-4zM820 557h1v4h-1zM820 559h4v1h-4zM821 557h1v4h-1zM835 536h4v1h-4zM836 534h1v4h-1zM835 537h4v1h-4zM836 535h1v4h-1zM836 536h4v1h-4zM837 534h1v4h-1zM836 537h4v1h-4zM837 535h1v4h-1zM837 535h4v1h-4zM838 533h1v4h-1zM837 536h4v1h-4zM838 534h1v4h-1zM837 537h4v1h-4zM838 535h1v4h-1zM838 535h4v1h-4zM839 533h1v4h-1zM838 536h4v1h-4zM839 534h1v4h-1zM839 535h4v1h-4zM840 533h1v4h-1zM839 536h4v1h-4zM840 534h1v4h-1zM840 535h4v1h-4zM841 533h1v4h-1zM840 536h4v1h-4zM841 534h1v4h-1zM841 534h4v1h-4zM842 532h1v4h-1zM841 535h4v1h-4zM842 533h1v4h-1zM842 533h4v1h-4zM843 531h1v4h-1zM842 534h4v1h-4zM843 532h1v4h-1zM842 535h4v1h-4zM843 533h1v4h-1zM843 533h4v1h-4zM844 531h1v4h-1zM843 534h4v1h-4zM844 532h1v4h-1zM844 533h4v1h-4zM845 531h1v4h-1zM845 533h4v1h-4zM846 531h1v4h-1zM846 533h4v1h-4zM847 531h1v4h-1zM846 534h4v1h-4zM847 532h1v4h-1zM847 533h4v1h-4zM848 531h1v4h-1zM847 534h4v1h-4zM848 532h1v4h-1zM848 533h4v1h-4zM849 531h1v4h-1zM849 533h4v1h-4zM850 531h1v4h-1zM849 534h4v1h-4zM850 532h1v4h-1zM850 534h4v1h-4zM851 532h1v4h-1zM852 540h4v1h-4zM853 538h1v4h-1zM852 541h4v1h-4zM853 539h1v4h-1zM853 540h4v1h-4zM854 538h1v4h-1zM854 540h4v1h-4zM855 538h1v4h-1zM855 539h4v1h-4zM856 537h1v4h-1zM855 540h4v1h-4zM856 538h1v4h-1zM856 540h4v1h-4zM857 538h1v4h-1zM857 539h4v1h-4zM858 537h1v4h-1zM857 540h4v1h-4zM858 538h1v4h-1zM858 539h4v1h-4zM859 537h1v4h-1zM858 540h4v1h-4zM859 538h1v4h-1zM859 536h4v1h-4zM860 534h1v4h-1zM860 535h4v1h-4zM861 533h1v4h-1zM860 536h4v1h-4zM861 534h1v4h-1zM861 535h4v1h-4zM862 533h1v4h-1zM861 536h4v1h-4zM862 534h1v4h-1zM862 535h4v1h-4zM863 533h1v4h-1zM862 536h4v1h-4zM863 534h1v4h-1zM863 535h4v1h-4zM864 533h1v4h-1zM863 536h4v1h-4zM864 534h1v4h-1zM864 534h4v1h-4zM865 532h1v4h-1zM864 535h4v1h-4zM865 533h1v4h-1zM865 535h4v1h-4zM866 533h1v4h-1zM865 536h4v1h-4zM866 534h1v4h-1zM866 535h4v1h-4zM867 533h1v4h-1zM866 536h4v1h-4zM867 534h1v4h-1zM867 536h4v1h-4zM868 534h1v4h-1zM867 537h4v1h-4zM868 535h1v4h-1zM868 537h4v1h-4zM869 535h1v4h-1zM868 538h4v1h-4zM869 536h1v4h-1zM869 537h4v1h-4zM870 535h1v4h-1zM869 538h4v1h-4zM870 536h1v4h-1zM879 540h4v1h-4zM880 538h1v4h-1zM880 528h4v1h-4zM881 526h1v4h-1zM880 540h4v1h-4zM881 538h1v4h-1zM881 527h4v1h-4zM882 525h1v4h-1zM881 528h4v1h-4zM882 526h1v4h-1zM881 540h4v1h-4zM882 538h1v4h-1zM881 541h4v1h-4zM882 539h1v4h-1zM882 528h4v1h-4zM883 526h1v4h-1zM882 529h4v1h-4zM883 527h1v4h-1zM882 540h4v1h-4zM883 538h1v4h-1zM882 541h4v1h-4zM883 539h1v4h-1zM883 527h4v1h-4zM884 525h1v4h-1zM883 528h4v1h-4zM884 526h1v4h-1zM883 540h4v1h-4zM884 538h1v4h-1zM883 541h4v1h-4zM884 539h1v4h-1zM884 527h4v1h-4zM885 525h1v4h-1zM884 528h4v1h-4zM885 526h1v4h-1zM884 540h4v1h-4zM885 538h1v4h-1zM884 541h4v1h-4zM885 539h1v4h-1zM885 528h4v1h-4zM886 526h1v4h-1zM885 541h4v1h-4zM886 539h1v4h-1zM886 532h4v1h-4zM887 530h1v4h-1zM887 532h4v1h-4zM888 530h1v4h-1zM888 532h4v1h-4zM889 530h1v4h-1zM888 533h4v1h-4zM889 531h1v4h-1zM889 532h4v1h-4zM890 530h1v4h-1zM889 533h4v1h-4zM890 531h1v4h-1zM890 532h4v1h-4zM891 530h1v4h-1zM890 533h4v1h-4zM891 531h1v4h-1zM897 547h4v1h-4zM898 545h1v4h-1zM900 536h4v1h-4zM901 534h1v4h-1zM901 536h4v1h-4zM902 534h1v4h-1zM901 537h4v1h-4zM902 535h1v4h-1zM902 537h4v1h-4zM903 535h1v4h-1z"/>
<path fill="#f00" d="M96 596h4v1h-4zM97 594h1v4h-1zM126 602h4v1h-4zM127 600h1v4h-1zM128 602h4v1h-4zM129 600h1v4h-1zM130 603h4v1h-4zM131 601h1v4h-1zM132 603h4v1h-4zM133 601h1v4h-1zM136 602h4v1h-4zM137 600h1v4h-1zM150 605h4v1h-4zM151 603h1v4h-1zM156 605h4v1h-4zM157 603h1v4h-1zM164 605h4v1h-4zM165 603h1v4h-1zM166 605h4v1h-4zM167 603h1v4h-1zM179 604h4v1h-4zM180 602h1v4h-1zM188 605h4v1h-4zM189 603h1v4h-1zM191 605h4v1h-4zM192 603h1v4h-1zM193 605h4v1h-4zM194 603h1v4h-1zM196 605h4v1h-4zM197 603h1v4h-1zM208 606h4v1h-4zM209 604h1v4h-1zM214 605h4v1h-4zM215 603h1v4h-1zM223 606h4v1h-4zM224 604h1v4h-1zM224 607h4v1h-4zM225 605h1v4h-1zM225 605h4v1h-4zM226 603h1v4h-1zM227 606h4v1h-4zM228 604h1v4h-1zM238 605h4v1h-4zM239 603h1v4h-1zM246 605h4v1h-4zM247 603h1v4h-1zM250 606h4v1h-4zM251 604h1v4h-1zM258 606h4v1h-4zM259 604h1v4h-1zM261 606h4v1h-4zM262 604h1v4h-1zM264 606h4v1h-4zM265 604h1v4h-1zM559 581h4v1h-4zM560 579h1v4h-1zM583 576h4v1h-4zM584 574h1v4h-1zM593 581h4v1h-4zM594 579h1v4h-1zM595 565h4v1h-4zM596 563h1v4h-1zM595 574h4v1h-4zM596 572h1v4h-1zM695 553h4v1h-4zM696 551h1v4h-1zM695 567h4v1h-4zM696 565h1v4h-1zM715 549h4v1h-4zM716 547h1v4h-1zM717 559h4v1h-4zM718 557h1v4h-1zM718 562h4v1h-4zM719 560h1v4h-1zM720 562h4v1h-4zM721 560h1v4h-1zM733 546h4v1h-4zM734 544h1v4h-1zM733 549h4v1h-4zM734 547h1v4h-1zM746 541h4v1h-4zM747 539h1v4h-1zM754 531h4v1h-4zM755 529h1v4h-1zM791 541h4v1h-4zM792 539h1v4h-1zM791 542h4v1h-4zM792 540h1v4h-1zM792 541h4v1h-4zM793 539h1v4h-1zM792 542h4v1h-4zM793 540h1v4h-1zM793 540h4v1h-4zM794 538h1v4h-1zM793 541h4v1h-4zM794 539h1v4h-1zM796 546h4v1h-4zM797 544h1v4h-1zM796 549h4v1h-4zM797 547h1v4h-1zM797 547h4v1h-4zM798 545h1v4h-1zM797 551h4v1h-4zM798 549h1v4h-1zM797 553h4v1h-4zM798 551h1v4h-1zM797 555h4v1h-4zM798 553h1v4h-1zM797 556h4v1h-4zM798 554h1v4h-1zM797 559h4v1h-4zM798 557h1v4h-1zM797 560h4v1h-4zM798 558h1v4h-1zM798 546h4v1h-4zM799 544h1v4h-1zM798 547h4v1h-4zM799 545h1v4h-1zM798 562h4v1h-4zM799 560h1v4h-1zM798 564h4v1h-4zM799 562h1v4h-1zM798 565h4v1h-4zM799 563h1v4h-1zM798 566h4v1h-4zM799 564h1v4h-1zM798 568h4v1h-4zM799 566h1v4h-1zM798 569h4v1h-4zM799 567h1v4h-1zM799 546h4v1h-4zM800 544h1v4h-1zM799 547h4v1h-4zM800 545h1v4h-1zM799 548h4v1h-4zM800 546h1v4h-1zM799 550h4v1h-4zM800 548h1v4h-1zM799 552h4v1h-4zM800 550h1v4h-1zM799 554h4v1h-4zM800 552h1v4h-1zM799 556h4v1h-4zM800 554h1v4h-1zM799 571h4v1h-4zM800 569h1v4h-1zM799 573h4v1h-4zM800 571h1v4h-1zM799 574h4v1h-4zM800 572h1v4h-1zM799 575h4v1h-4zM800 573h1v4h-1zM800 546h4v1h-4zM801 544h1v4h-1zM800 547h4v1h-4zM801 545h1v4h-1zM800 557h4v1h-4zM801 555h1v4h-1zM800 560h4v1h-4zM801 558h1v4h-1zM800 561h4v1h-4zM801 559h1v4h-1zM800 563h4v1h-4zM801 561h1v4h-1zM800 564h4v1h-4zM801 562h1v4h-1zM800 565h4v1h-4zM801 563h1v4h-1zM800 566h4v1h-4zM801 564h1v4h-1zM800 568h4v1h-4zM801 566h1v4h-1zM800 570h4v1h-4zM801 568h1v4h-1zM801 546h4v1h-4zM802 544h1v4h-1zM801 547h4v1h-4zM802 545h1v4h-1zM801 548h4v1h-4zM802 546h1v4h-1zM801 556h4v1h-4zM802 554h1v4h-1zM801 558h4v1h-4zM802 556h1v4h-1zM801 560h4v1h-4zM802 558h1v4h-1zM801 562h4v1h-4zM802 560h1v4h-1zM802 545h4v1h-4zM803 543h1v4h-1zM802 546h4v1h-4zM803 544h1v4h-1zM802 547h4v1h-4zM803 545h1v4h-1zM802 548h4v1h-4zM803 546h1v4h-1zM802 550h4v1h-4zM803 548h1v4h-1zM802 552h4v1h-4zM803 550h1v4h-1zM802 553h4v1h-4zM803 551h1v4h-1zM802 554h4v1h-4zM803 552h1v4h-1zM802 556h4v1h-4zM803 554h1v4h-1zM802 558h4v1h-4zM803 556h1v4h-1zM802 560h4v1h-4zM803 558h1v4h-1zM802 562h4v1h-4zM803 560h1v4h-1zM803 546h4v1h-4zM804 544h1v4h-1zM803 547h4v1h-4zM804 545h1v4h-1zM803 548h4v1h-4zM804 546h1v4h-1zM805 541h4v1h-4zM806 539h1v4h-1zM805 542h4v1h-4zM806 540h1v4h-1zM806 542h4v1h-4zM807 540h1v4h-1zM806 543h4v1h-4zM807 541h1v4h-1zM807 545h4v1h-4zM808 543h1v4h-1zM807 547h4v1h-4zM808 545h1v4h-1zM807 549h4v1h-4zM808 547h1v4h-1zM808 551h4v1h-4zM809 549h1v4h-1zM808 553h4v1h-4zM809 551h1v4h-1zM808 556h4v1h-4zM809 554h1v4h-1zM808 557h4v1h-4zM809 555h1v4h-1zM808 559h4v1h-4zM809 557h1v4h-1zM808 560h4v1h-4zM809 558h1v4h-1zM809 562h4v1h-4zM810 560h1v4h-1zM809 564h4v1h-4zM810 562h1v4h-1zM809 566h4v1h-4zM810 564h1v4h-1zM809 568h4v1h-4zM810 566h1v4h-1zM809 570h4v1h-4zM810 568h1v4h-1zM809 571h4v1h-4zM810 569h1v4h-1zM809 572h4v1h-4zM810 570h1v4h-1zM809 573h4v1h-4zM810 571h1v4h-1zM809 576h4v1h-4zM810 574h1v4h-1zM810 578h4v1h-4zM811 576h1v4h-1zM810 580h4v1h-4zM811 578h1v4h-1zM810 582h4v1h-4zM811 580h1v4h-1zM810 583h4v1h-4zM811 581h1v4h-1zM810 584h4v1h-4zM811 582h1v4h-1zM811 563h4v1h-4zM812 561h1v4h-1zM811 565h4v1h-4zM812 563h1v4h-1zM811 567h4v1h-4zM812 565h1v4h-1zM811 568h4v1h-4zM812 566h1v4h-1zM811 570h4v1h-4zM812 568h1v4h-1zM811 571h4v1h-4zM812 569h1v4h-1zM811 573h4v1h-4zM812 571h1v4h-1zM811 574h4v1h-4zM812 572h1v4h-1zM811 576h4v1h-4zM812 574h1v4h-1zM812 553h4v1h-4zM813 551h1v4h-1zM812 555h4v1h-4zM813 553h1v4h-1zM812 557h4v1h-4zM813 555h1v4h-1zM812 559h4v1h-4zM813 557h1v4h-1zM812 560h4v1h-4zM813 558h1v4h-1zM813 547h4v1h-4zM814 545h1v4h-1zM813 548h4v1h-4zM814 546h1v4h-1zM813 549h4v1h-4zM814 547h1v4h-1zM813 552h4v1h-4zM814 550h1v4h-1zM814 545h4v1h-4zM815 543h1v4h-1zM814 546h4v1h-4zM815 544h1v4h-1zM815 543h4v1h-4zM816 541h1v4h-1zM815 544h4v1h-4zM816 542h1v4h-1zM815 547h4v1h-4zM816 545h1v4h-1zM815 549h4v1h-4zM816 547h1v4h-1zM815 551h4v1h-4zM816 549h1v4h-1zM816 552h4v1h-4zM817 550h1v4h-1zM816 554h4v1h-4zM817 552h1v4h-1zM816 556h4v1h-4zM817 554h1v4h-1zM816 558h4v1h-4zM817 556h1v4h-1zM816 561h4v1h-4zM817 559h1v4h-1zM817 562h4v1h-4zM818 560h1v4h-1zM817 564h4v1h-4zM818 562h1v4h-1zM817 566h4v1h-4zM818 564h1v4h-1zM817 568h4v1h-4zM818 566h1v4h-1zM818 570h4v1h-4zM819 568h1v4h-1zM818 571h4v1h-4zM819 569h1v4h-1zM818 572h4v1h-4zM819 570h1v4h-1zM819 568h4v1h-4zM820 566h1v4h-1zM819 570h4v1h-4zM820 568h1v4h-1zM821 570h4v1h-4zM822 568h1v4h-1zM821 571h4v1h-4zM822 569h1v4h-1zM822 572h4v1h-4zM823 570h1v4h-1zM822 573h4v1h-4zM823 571h1v4h-1zM822 574h4v1h-4zM823 572h1v4h-1zM823 575h4v1h-4zM824 573h1v4h-1zM823 577h4v1h-4zM824 575h1v4h-1zM824 579h4v1h-4zM825 577h1v4h-1zM824 580h4v1h-4zM825 578h1v4h-1zM824 581h4v1h-4zM825 579h1v4h-1zM825 582h4v1h-4zM826 580h1v4h-1zM826 583h4v1h-4zM827 581h1v4h-1zM826 584h4v1h-4zM827 582h1v4h-1zM827 584h4v1h-4zM828 582h1v4h-1zM827 585h4v1h-4zM828 583h1v4h-1zM828 584h4v1h-4zM829 582h1v4h-1zM828 585h4v1h-4zM829 583h1v4h-1zM829 585h4v1h-4zM830 583h1v4h-1zM830 584h4v1h-4zM831 582h1v4h-1zM830 585h4v1h-4zM831 583h1v4h-1zM830 586h4v1h-4zM831 584h1v4h-1zM831 581h4v1h-4zM832 579h1v4h-1zM831 583h4v1h-4zM832 581h1v4h-1zM832 538h4v1h-4zM833 536h1v4h-1zM832 539h4v1h-4zM833 537h1v4h-1zM832 577h4v1h-4zM833 575h1v4h-1zM832 579h4v1h-4zM833 577h1v4h-1zM832 580h4v1h-4zM833 578h1v4h-1zM833 537h4v1h-4zM834 535h1v4h-1zM833 538h4v1h-4zM834 536h1v4h-1zM833 572h4v1h-4zM834 570h1v4h-1zM833 573h4v1h-4zM834 571h1v4h-1zM833 574h4v1h-4zM834 572h1v4h-1zM833 575h4v1h-4zM834 573h1v4h-1zM833 576h4v1h-4zM834 574h1v4h-1zM834 537h4v1h-4zM835 535h1v4h-1zM834 538h4v1h-4zM835 536h1v4h-1zM834 566h4v1h-4zM835 564h1v4h-1zM834 568h4v1h-4zM835 566h1v4h-1zM834 570h4v1h-4zM835 568h1v4h-1zM835 537h4v1h-4zM836 535h1v4h-1zM836 537h4v1h-4zM837 535h1v4h-1zM837 537h4v1h-4zM838 535h1v4h-1zM837 538h4v1h-4zM838 536h1v4h-1zM838 537h4v1h-4zM839 535h1v4h-1zM838 538h4v1h-4zM839 536h1v4h-1zM839 538h4v1h-4zM840 536h1v4h-1zM852 524h4v1h-4zM853 522h1v4h-1zM852 526h4v1h-4zM853 524h1v4h-1zM856 532h4v1h-4zM857 530h1v4h-1zM856 534h4v1h-4zM857 532h1v4h-1zM857 536h4v1h-4zM858 534h1v4h-1zM857 538h4v1h-4zM858 536h1v4h-1zM870 532h4v1h-4zM871 530h1v4h-1zM871 532h4v1h-4zM872 530h1v4h-1zM872 533h4v1h-4zM873 531h1v4h-1zM873 533h4v1h-4zM874 531h1v4h-1zM873 534h4v1h-4zM874 532h1v4h-1zM874 533h4v1h-4zM875 531h1v4h-1zM874 534h4v1h-4zM875 532h1v4h-1zM875 529h4v1h-4zM876 527h1v4h-1zM875 534h4v1h-4zM876 532h1v4h-1zM875 535h4v1h-4zM876 533h1v4h-1zM876 530h4v1h-4zM877 528h1v4h-1zM876 537h4v1h-4zM877 535h1v4h-1zM876 538h4v1h-4zM877 536h1v4h-1zM877 530h4v1h-4zM878 528h1v4h-1zM877 531h4v1h-4zM878 529h1v4h-1zM878 531h4v1h-4zM879 529h1v4h-1zM879 532h4v1h-4zM880 530h1v4h-1zM879 540h4v1h-4zM880 538h1v4h-1zM880 540h4v1h-4zM881 538h1v4h-1zM880 541h4v1h-4zM881 539h1v4h-1zM881 540h4v1h-4zM882 538h1v4h-1zM881 541h4v1h-4zM882 539h1v4h-1zM882 539h4v1h-4zM883 537h1v4h-1zM882 540h4v1h-4zM883 538h1v4h-1zM883 540h4v1h-4zM884 538h1v4h-1zM883 541h4v1h-4zM884 539h1v4h-1zM884 540h4v1h-4zM885 538h1v4h-1zM889 533h4v1h-4zM890 531h1v4h-1zM889 534h4v1h-4zM890 532h1v4h-1zM890 534h4v1h-4zM891 532h1v4h-1zM890 535h4v1h-4zM891 533h1v4h-1zM891 534h4v1h-4zM892 532h1v4h-1zM892 534h4v1h-4zM893 532h1v4h-1zM892 535h4v1h-4zM893 533h1v4h-1zM893 534h4v1h-4zM894 532h1v4h-1zM893 535h4v1h-4zM894 533h1v4h-1zM894 535h4v1h-4zM895 533h1v4h-1zM895 535h4v1h-4zM896 533h1v4h-1zM896 530h4v1h-4zM897 528h1v4h-1zM897 530h4v1h-4zM898 528h1v4h-1zM897 531h4v1h-4zM898 529h1v4h-1zM898 531h4v1h-4zM899 529h1v4h-1zM899 536h4v1h-4zM900 534h1v4h-1zM900 535h4v1h-4zM901 533h1v4h-1zM900 536h4v1h-4zM901 534h1v4h-1zM900 537h4v1h-4zM901 535h1v4h-1zM901 536h4v1h-4zM902 534h1v4h-1zM901 537h4v1h-4zM902 535h1v4h-1zM902 536h4v1h-4zM903 534h1v4h-1zM902 537h4v1h-4zM903 535h1v4h-1zM903 536h4v1h-4zM904 534h1v4h-1zM903 537h4v1h-4zM904 535h1v4h-1zM904 536h4v1h-4zM905 534h1v4h-1zM905 536h4v1h-4zM906 534h1v4h-1zM905 537h4v1h-4zM906 535h1v4h-1zM905 541h4v1h-4zM906 539h1v4h-1zM905 542h4v1h-4zM906 540h1v4h-1zM906 537h4v1h-4zM907 535h1v4h-1zM906 538h4v1h-4zM907 536h1v4h-1zM906 541h4v1h-4zM907 539h1v4h-1zM906 542h4v1h-4zM907 540h1v4h-1zM906 543h4v1h-4zM907 541h1v4h-1zM907 542h4v1h-4zM908 540h1v4h-1zM907 543h4v1h-4zM908 541h1v4h-1zM907 544h4v1h-4zM908 542h1v4h-1zM908 543h4v1h-4zM909 541h1v4h-1z"/>
<path fill="#0f0" d="M798 573h4v1h-4zM799 571h1v4h-1zM798 574h4v1h-4zM799 572h1v4h-1zM799 573h4v1h-4zM800 571h1v4h-1zM807 541h4v1h-4zM808 539h1v4h-1zM807 542h4v1h-4zM808 540h1v4h-1zM808 544h4v1h-4zM809 542h1v4h-1zM808 545h4v1h-4zM809 543h1v4h-1zM809 578h4v1h-4zM810 576h1v4h-1zM809 580h4v1h-4zM810 578h1v4h-1zM810 580h4v1h-4zM811 578h1v4h-1zM811 548h4v1h-4zM812 546h1v4h-1zM811 550h4v1h-4zM812 548h1v4h-1zM811 551h4v1h-4zM812 549h1v4h-1zM812 554h4v1h-4zM813 552h1v4h-1zM812 556h4v1h-4zM813 554h1v4h-1zM812 557h4v1h-4zM813 555h1v4h-1zM813 558h4v1h-4zM814 556h1v4h-1zM813 559h4v1h-4zM814 557h1v4h-1zM813 560h4v1h-4zM814 558h1v4h-1zM813 561h4v1h-4zM814 559h1v4h-1zM813 562h4v1h-4zM814 560h1v4h-1zM814 554h4v1h-4zM815 552h1v4h-1zM814 555h4v1h-4zM815 553h1v4h-1zM814 557h4v1h-4zM815 555h1v4h-1zM814 560h4v1h-4zM815 558h1v4h-1zM814 561h4v1h-4zM815 559h1v4h-1zM814 562h4v1h-4zM815 560h1v4h-1zM814 565h4v1h-4zM815 563h1v4h-1zM814 566h4v1h-4zM815 564h1v4h-1zM815 548h4v1h-4zM816 546h1v4h-1zM815 549h4v1h-4zM816 547h1v4h-1zM815 551h4v1h-4zM816 549h1v4h-1zM815 553h4v1h-4zM816 551h1v4h-1zM815 559h4v1h-4zM816 557h1v4h-1zM815 560h4v1h-4zM816 558h1v4h-1zM815 561h4v1h-4zM816 559h1v4h-1zM816 545h4v1h-4zM817 543h1v4h-1zM816 547h4v1h-4zM817 545h1v4h-1zM816 555h4v1h-4zM817 553h1v4h-1zM816 556h4v1h-4zM817 554h1v4h-1zM816 557h4v1h-4zM817 555h1v4h-1zM816 558h4v1h-4zM817 556h1v4h-1zM816 559h4v1h-4zM817 557h1v4h-1zM817 544h4v1h-4zM818 542h1v4h-1zM817 545h4v1h-4zM818 543h1v4h-1zM819 559h4v1h-4zM820 557h1v4h-1zM819 561h4v1h-4zM820 559h1v4h-1zM820 562h4v1h-4zM821 560h1v4h-1zM820 563h4v1h-4zM821 561h1v4h-1zM820 564h4v1h-4zM821 562h1v4h-1zM821 565h4v1h-4zM822 563h1v4h-1zM821 566h4v1h-4zM822 564h1v4h-1zM821 567h4v1h-4zM822 565h1v4h-1zM822 568h4v1h-4zM823 566h1v4h-1zM822 569h4v1h-4zM823 567h1v4h-1zM822 570h4v1h-4zM823 568h1v4h-1zM823 571h4v1h-4zM824 569h1v4h-1zM823 572h4v1h-4zM824 570h1v4h-1zM823 573h4v1h-4zM824 571h1v4h-1zM824 574h4v1h-4zM825 572h1v4h-1zM824 575h4v1h-4zM825 573h1v4h-1zM825 577h4v1h-4zM826 575h1v4h-1zM825 578h4v1h-4zM826 576h1v4h-1zM825 579h4v1h-4zM826 577h1v4h-1zM826 580h4v1h-4zM827 578h1v4h-1zM826 581h4v1h-4zM827 579h1v4h-1zM827 581h4v1h-4zM828 579h1v4h-1zM827 582h4v1h-4zM828 580h1v4h-1zM828 582h4v1h-4zM829 580h1v4h-1zM828 583h4v1h-4zM829 581h1v4h-1zM829 583h4v1h-4zM830 581h1v4h-1zM830 583h4v1h-4zM831 581h1v4h-1zM831 579h4v1h-4zM832 577h1v4h-1zM831 580h4v1h-4zM832 578h1v4h-1zM831 582h4v1h-4zM832 580h1v4h-1zM831 583h4v1h-4zM832 581h1v4h-1zM832 569h4v1h-4zM833 567h1v4h-1zM832 571h4v1h-4zM833 569h1v4h-1zM832 573h4v1h-4zM833 571h1v4h-1zM832 575h4v1h-4zM833 573h1v4h-1zM832 577h4v1h-4zM833 575h1v4h-1zM833 542h4v1h-4zM834 540h1v4h-1zM833 544h4v1h-4zM834 542h1v4h-1zM833 545h4v1h-4zM834 543h1v4h-1zM833 547h4v1h-4zM834 545h1v4h-1zM833 548h4v1h-4zM834 546h1v4h-1zM833 551h4v1h-4zM834 549h1v4h-1zM833 553h4v1h-4zM834 551h1v4h-1zM833 555h4v1h-4zM834 553h1v4h-1zM833 556h4v1h-4zM834 554h1v4h-1zM833 558h4v1h-4zM834 556h1v4h-1zM833 560h4v1h-4zM834 558h1v4h-1zM833 562h4v1h-4zM834 560h1v4h-1zM833 564h4v1h-4zM834 562h1v4h-1zM833 566h4v1h-4zM834 564h1v4h-1zM833 567h4v1h-4zM834 565h1v4h-1zM834 539h4v1h-4zM835 537h1v4h-1zM834 541h4v1h-4zM835 539h1v4h-1zM835 538h4v1h-4zM836 536h1v4h-1zM835 539h4v1h-4zM836 537h1v4h-1zM836 538h4v1h-4zM837 536h1v4h-1zM837 536h4v1h-4zM838 534h1v4h-1zM837 537h4v1h-4zM838 535h1v4h-1zM838 537h4v1h-4zM839 535h1v4h-1zM839 536h4v1h-4zM840 534h1v4h-1zM839 537h4v1h-4zM840 535h1v4h-1zM840 536h4v1h-4zM841 534h1v4h-1zM852 525h4v1h-4zM853 523h1v4h-1zM852 528h4v1h-4zM853 526h1v4h-1zM852 529h4v1h-4zM853 527h1v4h-1zM852 532h4v1h-4zM853 530h1v4h-1zM852 534h4v1h-4zM853 532h1v4h-1zM852 536h4v1h-4zM853 534h1v4h-1zM852 537h4v1h-4zM853 535h1v4h-1zM852 539h4v1h-4zM853 537h1v4h-1zM861 534h4v1h-4zM862 532h1v4h-1zM862 534h4v1h-4zM863 532h1v4h-1zM862 535h4v1h-4zM863 533h1v4h-1zM863 534h4v1h-4zM864 532h1v4h-1zM863 535h4v1h-4zM864 533h1v4h-1zM864 535h4v1h-4zM865 533h1v4h-1zM872 538h4v1h-4zM873 536h1v4h-1zM872 540h4v1h-4zM873 538h1v4h-1zM872 541h4v1h-4zM873 539h1v4h-1zM872 543h4v1h-4zM873 541h1v4h-1zM872 545h4v1h-4zM873 543h1v4h-1zM876 530h4v1h-4zM877 528h1v4h-1zM876 531h4v1h-4zM877 529h1v4h-1zM877 530h4v1h-4zM878 528h1v4h-1zM877 531h4v1h-4zM878 529h1v4h-1zM878 530h4v1h-4zM879 528h1v4h-1zM878 531h4v1h-4zM879 529h1v4h-1zM879 531h4v1h-4zM880 529h1v4h-1zM880 531h4v1h-4zM881 529h1v4h-1zM881 530h4v1h-4zM882 528h1v4h-1zM882 530h4v1h-4zM883 528h1v4h-1zM883 530h4v1h-4zM884 528h1v4h-1zM897 533h4v1h-4zM898 531h1v4h-1zM897 534h4v1h-4zM898 532h1v4h-1zM897 537h4v1h-4zM898 535h1v4h-1zM897 538h4v1h-4zM898 536h1v4h-1zM897 541h4v1h-4zM898 539h1v4h-1zM897 542h4v1h-4zM898 540h1v4h-1zM897 544h4v1h-4zM898 542h1v4h-1zM897 546h4v1h-4zM898 544h1v4h-1zM903 541h4v1h-4zM904 539h1v4h-1zM905 535h4v1h-4zM906 533h1v4h-1zM905 536h4v1h-4zM906 534h1v4h-1zM906 536h4v1h-4zM907 534h1v4h-1z"/>
<path fill="#00f" d="M820 564h4v1h-4zM821 562h1v4h-1zM824 576h4v1h-4zM825 574h1v4h-1zM827 580h4v1h-4zM828 578h1v4h-1zM884 538h4v1h-4zM885 536h1v4h-1zM898 534h4v1h-4zM899 532h1v4h-1z"/>
</g>
<g shape-rendering="crispEdges">
<path fill="#000" d="M154 108h4v1h-4zM156 106h1v4h-1zM156 161h4v1h-4zM157 160h1v4h-1zM250 236h4v1h-4zM252 234h1v4h-1zM246 41h4v1h-4zM247 40h1v4h-1zM246 57h4v1h-4zM248 55h1v4h-1zM838 119h4v1h-4zM840 118h1v4h-1zM158 260h4v1h-4zM159 258h1v4h-1zM246 264h4v1h-4zM248 262h1v4h-1zM118 287h4v1h-4zM119 286h1v4h-1zM254 336h4v1h-4zM256 334h1v4h-1zM255 353h4v1h-4zM256 352h1v4h-1zM367 276h4v1h-4zM368 274h1v4h-1zM410 388h4v1h-4zM412 386h1v4h-1zM794 318h4v1h-4zM796 316h1v4h-1zM256 405h4v1h-4zM257 404h1v4h-1zM257 446h4v1h-4zM258 445h1v4h-1zM162 481h4v1h-4zM164 479h1v4h-1zM266 523h4v1h-4zM268 522h1v4h-1zM229 562h4v1h-4zM230 560h1v4h-1zM260 561h4v1h-4zM262 560h1v4h-1zM262 627h4v1h-4zM263 625h1v4h-1zM166 647h4v1h-4zM167 646h1v4h-1zM125 663h4v1h-4zM127 661h1v4h-1zM167 700h4v1h-4zM169 698h1v4h-1z"/>
<path fill="#f00" d="M194 131h4v1h-4zM196 130h1v4h-1zM755 50h4v1h-4zM757 49h1v4h-1zM643 150h4v1h-4zM645 148h1v4h-1zM712 191h4v1h-4zM714 189h1v4h-1zM244 422h4v1h-4zM246 420h1v4h-1z"/>
<path fill="#0f0" d="M248 134h4v1h-4zM250 132h1v4h-1zM428 191h4v1h-4zM430 190h1v4h-1zM796 44h4v1h-4zM798 42h1v4h-1zM805 51h4v1h-4zM807 50h1v4h-1zM637 188h4v1h-4zM639 186h1v4h-1zM831 117h4v1h-4zM833 115h1v4h-1zM124 291h4v1h-4zM125 289h1v4h-1zM551 214h4v1h-4zM553 213h1v4h-1zM628 232h4v1h-4zM629 230h1v4h-1zM720 347h4v1h-4zM721 346h1v4h-1zM878 297h4v1h-4zM879 296h1v4h-1zM538 407h4v1h-4zM540 406h1v4h-1zM444 487h4v1h-4zM445 486h1v4h-1zM439 560h4v1h-4zM440 558h1v4h-1zM836 434h4v1h-4zM838 432h1v4h-1zM251 595h4v1h-4zM253 594h1v4h-1zM396 574h4v1h-4zM397 572h1v4h-1z"/>
<path fill="#00f" d="M140 118h4v1h-4zM141 117h1v4h-1zM136 141h4v1h-4zM137 140h1v4h-1zM187 183h4v1h-4zM188 182h1v4h-1zM265 179h4v1h-4zM266 177h1v4h-1zM166 225h4v1h-4zM168 223h1v4h-1zM205 227h4v1h-4zM207 225h1v4h-1zM233 231h4v1h-4zM234 230h1v4h-1zM376 97h4v1h-4zM377 95h1v4h-1zM347 136h4v1h-4zM349 135h1v4h-1zM506 187h4v1h-4zM507 186h1v4h-1zM784 75h4v1h-4zM785 74h1v4h-1zM816 121h4v1h-4zM818 120h1v4h-1zM632 138h4v1h-4zM633 136h1v4h-1zM790 196h4v1h-4zM792 195h1v4h-1zM169 277h4v1h-4zM171 276h1v4h-1zM229 273h4v1h-4zM230 272h1v4h-1zM224 278h4v1h-4zM225 276h1v4h-1zM197 340h4v1h-4zM198 339h1v4h-1zM243 340h4v1h-4zM244 339h1v4h-1zM322 390h4v1h-4zM323 388h1v4h-1zM427 244h4v1h-4zM429 242h1v4h-1zM341 276h4v1h-4zM343 274h1v4h-1zM422 330h4v1h-4zM423 328h1v4h-1zM624 345h4v1h-4zM626 344h1v4h-1zM850 173h4v1h-4zM852 171h1v4h-1zM866 379h4v1h-4zM868 378h1v4h-1zM166 404h4v1h-4zM168 402h1v4h-1zM192 443h4v1h-4zM194 441h1v4h-1zM176 524h4v1h-4zM177 522h1v4h-1zM261 533h4v1h-4zM262 532h1v4h-1zM466 397h4v1h-4zM468 395h1v4h-1zM527 465h4v1h-4zM529 463h1v4h-1zM361 482h4v1h-4zM362 480h1v4h-1zM497 527h4v1h-4zM499 525h1v4h-1zM574 470h4v1h-4zM576 469h1v4h-1zM646 450h4v1h-4zM648 449h1v4h-1zM617 513h4v1h-4zM619 512h1v4h-1zM907 414h4v1h-4zM908 412h1v4h-1zM833 465h4v1h-4zM834 463h1v4h-1zM146 588h4v1h-4zM148 586h1v4h-1zM235 624h4v1h-4zM237 622h1v4h-1zM334 594h4v1h-4zM335 592h1v4h-1zM644 554h4v1h-4zM646 552h1v4h-1z"/>
</g>
<g shape-rendering="crispEdges">
<rect x="400" y="31" width="249" height="39" fill="#fff"/>
<rect x="840" y="32" width="133" height="34" fill="#fff"/>
<rect x="190" y="140" width="166" height="33" fill="#fff"/>
<rect x="86.5" y="40.5" width="156" height="20" fill="#fff" stroke="#000" stroke-width="1"/>
<path fill="#000" d="M90 155h10v2h-10zM94 150h2v11h-2z"/>
<path fill="#f00" d="M120 155h10v2h-10zM124 150h2v11h-2z"/>
<path fill="#0f0" d="M150 155h10v2h-10zM154 150h2v11h-2z"/>
<path fill="#00f" d="M180 155h10v2h-10zM184 150h2v11h-2z"/>
<path fill="#0f0" d="M899 27h3v1h-3zM900 28h1v1h-1z"/>
<path fill="#000" d="M74 25h938v2h-938zM74 705h937v2h-937zM74 25h2v682h-2zM1010 25h2v681h-2z"/>
<path fill="#000" d="M74 18h1v7h-1z M74 707h1v6h-1z M80 21h1v4h-1z M80 707h1v3h-1z M86 21h1v4h-1z M86 707h1v3h-1z M92 21h1v4h-1z M92 707h1v3h-1z M98 21h1v4h-1z M98 707h1v3h-1z M104 21h1v4h-1z M104 707h1v3h-1z M110 21h1v4h-1z M110 707h1v3h-1z M116 21h1v4h-1z M116 707h1v3h-1z M122 21h1v4h-1z M122 707h1v3h-1z M128 21h1v4h-1z M128 707h1v3h-1z M134 21h1v4h-1z M134 707h1v3h-1z M140 21h1v4h-1z M140 707h1v3h-1z M146 21h1v4h-1z M146 707h1v3h-1z M152 21h1v4h-1z M152 707h1v3h-1z M158 21h1v4h-1z M158 707h1v3h-1z M164 21h1v4h-1z M164 707h1v3h-1z M170 21h1v4h-1z M170 707h1v3h-1z M176 21h1v4h-1z M176 707h1v3h-1z M182 21h1v4h-1z M182 707h1v3h-1z M188 21h1v4h-1z M188 707h1v3h-1z M194 21h1v4h-1z M194 707h1v3h-1z M200 21h1v4h-1z M200 707h1v3h-1z M206 21h1v4h-1z M206 707h1v3h-1z M212 21h1v4h-1z M212 707h1v3h-1z M218 21h1v4h-1z M218 707h1v3h-1z M224 21h1v4h-1z M224 707h1v3h-1z M230 21h1v4h-1z M230 707h1v3h-1z M236 21h1v4h-1z M236 707h1v3h-1z M242 21h1v4h-1z M242 707h1v3h-1z M248 21h1v4h-1z M248 707h1v3h-1z M254 18h1v7h-1z M254 707h1v6h-1z M260 21h1v4h-1z M260 707h1v3h-1z M266 21h1v4h-1z M266 707h1v3h-1z M272 21h1v4h-1z M272 707h1v3h-1z M278 21h1v4h-1z M278 707h1v3h-1z M284 21h1v4h-1z M284 707h1v3h-1z M290 21h1v4h-1z M290 707h1v3h-1z M296 21h1v4h-1z M296 707h1v3h-1z M302 21h1v4h-1z M302 707h1v3h-1z M308 21h1v4h-1z M308 707h1v3h-1z M314 21h1v4h-1z M314 707h1v3h-1z M320 21h1v4h-1z M320 707h1v3h-1z M326 21h1v4h-1z M326 707h1v3h-1z M332 21h1v4h-1z M332 707h1v3h-1z M338 21h1v4h-1z M338 707h1v3h-1z M344 21h1v4h-1z M344 707h1v3h-1z M350 21h1v4h-1z M350 707h1v3h-1z M356 21h1v4h-1z M356 707h1v3h-1z M362 21h1v4h-1z M362 707h1v3h-1z M368 21h1v4h-1z M368 707h1v3h-1z M374 21h1v4h-1z M374 707h1v3h-1z M380 21h1v4h-1z M380 707h1v3h-1z M386 21h1v4h-1z M386 707h1v3h-1z M392 21h1v4h-1z M392 707h1v3h-1z M398 21h1v4h-1z M398 707h1v3h-1z M404 21h1v4h-1z M404 707h1v3h-1z M410 21h1v4h-1z M410 707h1v3h-1z M416 21h1v4h-1z M416 707h1v3h-1z M422 21h1v4h-1z M422 707h1v3h-1z M428 21h1v4h-1z M428 707h1v3h-1z M434 18h1v7h-1z M434 707h1v6h-1z M440 21h1v4h-1z M440 707h1v3h-1z M446 21h1v4h-1z M446 707h1v3h-1z M452 21h1v4h-1z M452 707h1v3h-1z M458 21h1v4h-1z M458 707h1v3h-1z M464 21h1v4h-1z M464 707h1v3h-1z M470 21h1v4h-1z M470 707h1v3h-1z M476 21h1v4h-1z M476 707h1v3h-1z M482 21h1v4h-1z M482 707h1v3h-1z M488 21h1v4h-1z M488 707h1v3h-1z M494 21h1v4h-1z M494 707h1v3h-1z M500 21h1v4h-1z M500 707h1v3h-1z M506 21h1v4h-1z M506 707h1v3h-1z M512 21h1v4h-1z M512 707h1v3h-1z M518 21h1v4h-1z M518 707h1v3h-1z M524 21h1v4h-1z M524 707h1v3h-1z M530 21h1v4h-1z M530 707h1v3h-1z M536 21h1v4h-1z M536 707h1v3h-1z M542 21h1v4h-1z M542 707h1v3h-1z M548 21h1v4h-1z M548 707h1v3h-1z M554 21h1v4h-1z M554 707h1v3h-1z M560 21h1v4h-1z M560 707h1v3h-1z M566 21h1v4h-1z M566 707h1v3h-1z M572 21h1v4h-1z M572 707h1v3h-1z M578 21h1v4h-1z M578 707h1v3h-1z M584 21h1v4h-1z M584 707h1v3h-1z M590 21h1v4h-1z M590 707h1v3h-1z M596 21h1v4h-1z M596 707h1v3h-1z M602 21h1v4h-1z M602 707h1v3h-1z M608 21h1v4h-1z M608 707h1v3h-1z M614 18h1v7h-1z M614 707h1v6h-1z M620 21h1v4h-1z M620 707h1v3h-1z M626 21h1v4h-1z M626 707h1v3h-1z M632 21h1v4h-1z M632 707h1v3h-1z M638 21h1v4h-1z M638 707h1v3h-1z M644 21h1v4h-1z M644 707h1v3h-1z M650 21h1v4h-1z M650 707h1v3h-1z M656 21h1v4h-1z M656 707h1v3h-1z M662 21h1v4h-1z M662 707h1v3h-1z M668 21h1v4h-1z M668 707h1v3h-1z M674 21h1v4h-1z M674 707h1v3h-1z M680 21h1v4h-1z M680 707h1v3h-1z M686 21h1v4h-1z M686 707h1v3h-1z M692 21h1v4h-1z M692 707h1v3h-1z M698 21h1v4h-1z M698 707h1v3h-1z M704 21h1v4h-1z M704 707h1v3h-1z M710 21h1v4h-1z M710 707h1v3h-1z M716 21h1v4h-1z M716 707h1v3h-1z M722 21h1v4h-1z M722 707h1v3h-1z M728 21h1v4h-1z M728 707h1v3h-1z M734 21h1v4h-1z M734 707h1v3h-1z M740 21h1v4h-1z M740 707h1v3h-1z M746 21h1v4h-1z M746 707h1v3h-1z M752 21h1v4h-1z M752 707h1v3h-1z M758 21h1v4h-1z M758 707h1v3h-1z M764 21h1v4h-1z M764 707h1v3h-1z M770 21h1v4h-1z M770 707h1v3h-1z M776 21h1v4h-1z M776 707h1v3h-1z M782 21h1v4h-1z M782 707h1v3h-1z M788 21h1v4h-1z M788 707h1v3h-1z M794 18h1v7h-1z M794 707h1v6h-1z M800 21h1v4h-1z M800 707h1v3h-1z M806 21h1v4h-1z M806 707h1v3h-1z M812 21h1v4h-1z M812 707h1v3h-1z M818 21h1v4h-1z M818 707h1v3h-1z M824 21h1v4h-1z M824 707h1v3h-1z M830 21h1v4h-1z M830 707h1v3h-1z M836 21h1v4h-1z M836 707h1v3h-1z M842 21h1v4h-1z M842 707h1v3h-1z M848 21h1v4h-1z M848 707h1v3h-1z M854 21h1v4h-1z M854 707h1v3h-1z M860 21h1v4h-1z M860 707h1v3h-1z M866 21h1v4h-1z M866 707h1v3h-1z M872 21h1v4h-1z M872 707h1v3h-1z M878 21h1v4h-1z M878 707h1v3h-1z M884 21h1v4h-1z M884 707h1v3h-1z M890 21h1v4h-1z M890 707h1v3h-1z M896 21h1v4h-1z M896 707h1v3h-1z M902 21h1v4h-1z M902 707h1v3h-1z M908 21h1v4h-1z M908 707h1v3h-1z M914 21h1v4h-1z M914 707h1v3h-1z M920 21h1v4h-1z M920 707h1v3h-1z M926 21h1v4h-1z M926 707h1v3h-1z M932 21h1v4h-1z M932 707h1v3h-1z M938 21h1v4h-1z M938 707h1v3h-1z M944 21h1v4h-1z M944 707h1v3h-1z M950 21h1v4h-1z M950 707h1v3h-1z M956 21h1v4h-1z M956 707h1v3h-1z M962 21h1v4h-1z M962 707h1v3h-1z M968 21h1v4h-1z M968 707h1v3h-1z M974 18h1v7h-1z M974 707h1v6h-1z M980 21h1v4h-1z M980 707h1v3h-1z M986 21h1v4h-1z M986 707h1v3h-1z M992 21h1v4h-1z M992 707h1v3h-1z M998 21h1v4h-1z M998 707h1v3h-1z M1004 21h1v4h-1z M1004 707h1v3h-1z M1010 21h1v4h-1z M1010 707h1v3h-1z M67 705h7v1h-7z M1012 705h7v1h-7z M71 685h3v1h-3z M1012 685h3v1h-3z M71 665h3v1h-3z M1012 665h3v1h-3z M71 645h3v1h-3z M1012 645h3v1h-3z M71 625h3v1h-3z M1012 625h3v1h-3z M67 605h7v1h-7z M1012 605h7v1h-7z M71 585h3v1h-3z M1012 585h3v1h-3z M71 565h3v1h-3z M1012 565h3v1h-3z M71 545h3v1h-3z M1012 545h3v1h-3z M71 525h3v1h-3z M1012 525h3v1h-3z M67 505h7v1h-7z M1012 505h7v1h-7z M71 485h3v1h-3z M1012 485h3v1h-3z M71 465h3v1h-3z M1012 465h3v1h-3z M71 445h3v1h-3z M1012 445h3v1h-3z M71 425h3v1h-3z M1012 425h3v1h-3z M67 405h7v1h-7z M1012 405h7v1h-7z M71 385h3v1h-3z M1012 385h3v1h-3z M71 365h3v1h-3z M1012 365h3v1h-3z M71 345h3v1h-3z M1012 345h3v1h-3z M71 325h3v1h-3z M1012 325h3v1h-3z M67 305h7v1h-7z M1012 305h7v1h-7z M71 285h3v1h-3z M1012 285h3v1h-3z M71 265h3v1h-3z M1012 265h3v1h-3z M71 245h3v1h-3z M1012 245h3v1h-3z M71 225h3v1h-3z M1012 225h3v1h-3z M67 205h7v1h-7z M1012 205h7v1h-7z M71 185h3v1h-3z M1012 185h3v1h-3z M71 165h3v1h-3z M1012 165h3v1h-3z M71 145h3v1h-3z M1012 145h3v1h-3z M71 125h3v1h-3z M1012 125h3v1h-3z M67 105h7v1h-7z M1012 105h7v1h-7z M71 85h3v1h-3z M1012 85h3v1h-3z M71 65h3v1h-3z M1012 65h3v1h-3z M71 45h3v1h-3z M1012 45h3v1h-3z M71 25h3v1h-3z M1012 25h3v1h-3z"/>
</g>
<g filter="url(#crisp)"><text transform="translate(61 114) scale(0.92 1)" font-size="20" text-anchor="end" letter-spacing="2">20</text>
<text transform="translate(61 214) scale(0.92 1)" font-size="20" text-anchor="end" letter-spacing="2">15</text>
<text transform="translate(61 314) scale(0.92 1)" font-size="20" text-anchor="end" letter-spacing="2">10</text>
<text transform="translate(61 414) scale(0.92 1)" font-size="20" text-anchor="end" letter-spacing="2">5</text>
<text transform="translate(61 514) scale(0.92 1)" font-size="20" text-anchor="end" letter-spacing="2">0</text>
<text transform="translate(61 614) scale(0.92 1)" font-size="20" text-anchor="end" letter-spacing="2">-5</text>
<text transform="translate(61 714) scale(0.92 1)" font-size="20" text-anchor="end" letter-spacing="2">-10</text>
<text transform="translate(74.2 734) scale(0.92 1)" font-size="20" text-anchor="middle" letter-spacing="2">0</text>
<text transform="translate(255 734) scale(0.92 1)" font-size="20" text-anchor="middle" letter-spacing="2">300</text>
<text transform="translate(435 734) scale(0.92 1)" font-size="20" text-anchor="middle" letter-spacing="2">600</text>
<text transform="translate(615 734) scale(0.92 1)" font-size="20" text-anchor="middle" letter-spacing="2">900</text>
<text transform="translate(795 734) scale(0.92 1)" font-size="20" text-anchor="middle" letter-spacing="2">1200</text>
<text transform="translate(975 734) scale(0.92 1)" font-size="20" text-anchor="middle" letter-spacing="2">1500</text>
<text transform="translate(366 760) scale(0.92 1)" font-size="22" textLength="383.70" lengthAdjust="spacing">time from start of pass, seconds</text>
<text transform="translate(24 452) rotate(-90) scale(0.92 1)" font-size="22" textLength="182.61" lengthAdjust="spacing">topography, km</text>
<text transform="translate(414 56) scale(0.88 1)" font-size="22" textLength="250.00" lengthAdjust="spacing">Topography ap00021k</text>
<text transform="translate(875 56) scale(0.92 1)" font-size="17" textLength="95.65" lengthAdjust="spacing">V.E. 100:1</text>
<text transform="translate(203 163) scale(0.92 1)" font-size="18" textLength="130.43" lengthAdjust="spacing">MOLA 1 2 3 4</text>
<text transform="translate(90 56) scale(0.95 1)" font-size="15" textLength="155.79" lengthAdjust="spacing" class="tm">MOLA Science Team</text></g>
</svg>
</body></html>
